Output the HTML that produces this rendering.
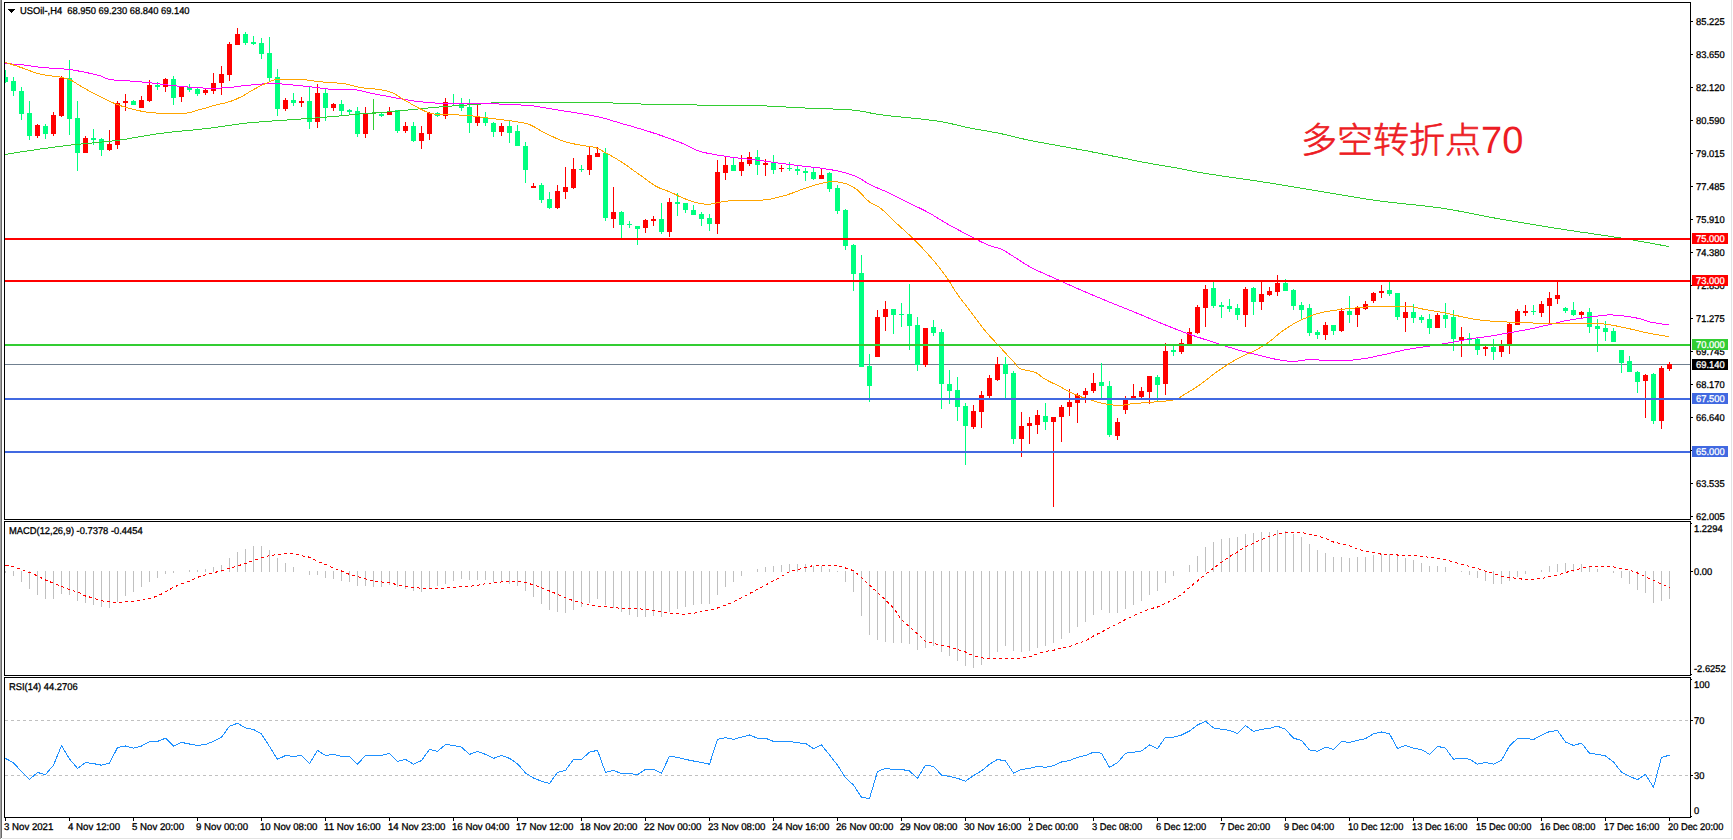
<!DOCTYPE html>
<html lang="zh"><head><meta charset="utf-8"><title>USOil H4</title>
<style>html,body{margin:0;padding:0;background:#fff;overflow:hidden}svg{display:block}text{font-family:'Liberation Sans', sans-serif;}</style>
</head><body>
<svg width="1733" height="840" viewBox="0 0 1733 840" text-rendering="geometricPrecision">
<rect x="0" y="0" width="1733" height="840" fill="#fff"/>
<g shape-rendering="crispEdges">
<rect x="0" y="0" width="1" height="839" fill="#a0a0a0"/>
<rect x="1" y="0" width="1" height="838" fill="#696969"/>
<rect x="2" y="838" width="1730" height="1" fill="#e3e3e3"/>
<rect x="1731" y="0" width="1" height="839" fill="#e3e3e3"/>
<rect x="5" y="364" width="1685" height="1" fill="#708090"/>
</g>
<g shape-rendering="crispEdges">
<rect x="5" y="70" width="1" height="13" fill="#00ff7f"/>
<rect x="5" y="77" width="3" height="5" fill="#00ff7f"/>
<rect x="13" y="77" width="1" height="19" fill="#00ff7f"/>
<rect x="11" y="81" width="5" height="10" fill="#00ff7f"/>
<rect x="21" y="87" width="1" height="33" fill="#00ff7f"/>
<rect x="19" y="91" width="5" height="23" fill="#00ff7f"/>
<rect x="29" y="101" width="1" height="39" fill="#00ff7f"/>
<rect x="27" y="113" width="5" height="23" fill="#00ff7f"/>
<rect x="37" y="124" width="1" height="14" fill="#ff0000"/>
<rect x="35" y="125" width="5" height="11" fill="#ff0000"/>
<rect x="45" y="124" width="1" height="15" fill="#00ff7f"/>
<rect x="43" y="126" width="5" height="8" fill="#00ff7f"/>
<rect x="53" y="112" width="1" height="24" fill="#ff0000"/>
<rect x="51" y="115" width="5" height="19" fill="#ff0000"/>
<rect x="61" y="76" width="1" height="41" fill="#ff0000"/>
<rect x="59" y="78" width="5" height="38" fill="#ff0000"/>
<rect x="69" y="60" width="1" height="75" fill="#00ff7f"/>
<rect x="67" y="78" width="5" height="41" fill="#00ff7f"/>
<rect x="77" y="101" width="1" height="70" fill="#00ff7f"/>
<rect x="75" y="118" width="5" height="35" fill="#00ff7f"/>
<rect x="85" y="136" width="1" height="17" fill="#ff0000"/>
<rect x="83" y="138" width="5" height="15" fill="#ff0000"/>
<rect x="93" y="129" width="1" height="16" fill="#00ff7f"/>
<rect x="91" y="138" width="5" height="2" fill="#00ff7f"/>
<rect x="101" y="138" width="1" height="18" fill="#00ff7f"/>
<rect x="99" y="139" width="5" height="11" fill="#00ff7f"/>
<rect x="109" y="130" width="1" height="21" fill="#ff0000"/>
<rect x="107" y="144" width="5" height="6" fill="#ff0000"/>
<rect x="117" y="101" width="1" height="48" fill="#ff0000"/>
<rect x="115" y="103" width="5" height="42" fill="#ff0000"/>
<rect x="125" y="94" width="1" height="17" fill="#ff0000"/>
<rect x="123" y="101" width="5" height="2" fill="#ff0000"/>
<rect x="133" y="100" width="1" height="5" fill="#00ff7f"/>
<rect x="131" y="101" width="5" height="4" fill="#00ff7f"/>
<rect x="141" y="96" width="1" height="12" fill="#ff0000"/>
<rect x="139" y="100" width="5" height="8" fill="#ff0000"/>
<rect x="149" y="80" width="1" height="22" fill="#ff0000"/>
<rect x="147" y="85" width="5" height="16" fill="#ff0000"/>
<rect x="157" y="82" width="1" height="8" fill="#00ff7f"/>
<rect x="155" y="85" width="5" height="2" fill="#00ff7f"/>
<rect x="165" y="78" width="1" height="14" fill="#ff0000"/>
<rect x="163" y="79" width="5" height="8" fill="#ff0000"/>
<rect x="173" y="76" width="1" height="29" fill="#00ff7f"/>
<rect x="171" y="79" width="5" height="19" fill="#00ff7f"/>
<rect x="181" y="86" width="1" height="16" fill="#ff0000"/>
<rect x="179" y="86" width="5" height="11" fill="#ff0000"/>
<rect x="189" y="84" width="1" height="8" fill="#00ff7f"/>
<rect x="187" y="87" width="5" height="3" fill="#00ff7f"/>
<rect x="197" y="88" width="1" height="8" fill="#00ff7f"/>
<rect x="195" y="89" width="5" height="5" fill="#00ff7f"/>
<rect x="205" y="88" width="1" height="7" fill="#ff0000"/>
<rect x="203" y="90" width="5" height="3" fill="#ff0000"/>
<rect x="213" y="73" width="1" height="21" fill="#ff0000"/>
<rect x="211" y="83" width="5" height="8" fill="#ff0000"/>
<rect x="221" y="66" width="1" height="29" fill="#ff0000"/>
<rect x="219" y="74" width="5" height="9" fill="#ff0000"/>
<rect x="229" y="42" width="1" height="39" fill="#ff0000"/>
<rect x="227" y="44" width="5" height="31" fill="#ff0000"/>
<rect x="237" y="28" width="1" height="17" fill="#ff0000"/>
<rect x="235" y="34" width="5" height="11" fill="#ff0000"/>
<rect x="245" y="32" width="1" height="13" fill="#00ff7f"/>
<rect x="243" y="34" width="5" height="9" fill="#00ff7f"/>
<rect x="253" y="36" width="1" height="9" fill="#00ff7f"/>
<rect x="251" y="42" width="5" height="2" fill="#00ff7f"/>
<rect x="261" y="38" width="1" height="21" fill="#00ff7f"/>
<rect x="259" y="43" width="5" height="11" fill="#00ff7f"/>
<rect x="269" y="37" width="1" height="44" fill="#00ff7f"/>
<rect x="267" y="53" width="5" height="25" fill="#00ff7f"/>
<rect x="277" y="69" width="1" height="47" fill="#00ff7f"/>
<rect x="275" y="77" width="5" height="32" fill="#00ff7f"/>
<rect x="285" y="98" width="1" height="13" fill="#ff0000"/>
<rect x="283" y="100" width="5" height="9" fill="#ff0000"/>
<rect x="293" y="93" width="1" height="13" fill="#00ff7f"/>
<rect x="291" y="100" width="5" height="3" fill="#00ff7f"/>
<rect x="301" y="97" width="1" height="10" fill="#ff0000"/>
<rect x="299" y="101" width="5" height="2" fill="#ff0000"/>
<rect x="309" y="87" width="1" height="42" fill="#00ff7f"/>
<rect x="307" y="101" width="5" height="21" fill="#00ff7f"/>
<rect x="317" y="84" width="1" height="44" fill="#ff0000"/>
<rect x="315" y="93" width="5" height="29" fill="#ff0000"/>
<rect x="325" y="89" width="1" height="32" fill="#00ff7f"/>
<rect x="323" y="93" width="5" height="15" fill="#00ff7f"/>
<rect x="333" y="103" width="1" height="8" fill="#ff0000"/>
<rect x="331" y="104" width="5" height="4" fill="#ff0000"/>
<rect x="341" y="100" width="1" height="16" fill="#00ff7f"/>
<rect x="339" y="104" width="5" height="7" fill="#00ff7f"/>
<rect x="349" y="109" width="1" height="6" fill="#00ff7f"/>
<rect x="347" y="110" width="5" height="2" fill="#00ff7f"/>
<rect x="357" y="107" width="1" height="30" fill="#00ff7f"/>
<rect x="355" y="111" width="5" height="23" fill="#00ff7f"/>
<rect x="365" y="107" width="1" height="31" fill="#ff0000"/>
<rect x="363" y="114" width="5" height="20" fill="#ff0000"/>
<rect x="373" y="99" width="1" height="31" fill="#32cd32"/>
<rect x="371" y="113" width="5" height="1" fill="#32cd32"/>
<rect x="381" y="113" width="1" height="4" fill="#00ff7f"/>
<rect x="379" y="114" width="5" height="2" fill="#00ff7f"/>
<rect x="389" y="107" width="1" height="8" fill="#ff0000"/>
<rect x="387" y="111" width="5" height="4" fill="#ff0000"/>
<rect x="397" y="110" width="1" height="23" fill="#00ff7f"/>
<rect x="395" y="110" width="5" height="21" fill="#00ff7f"/>
<rect x="405" y="122" width="1" height="11" fill="#ff0000"/>
<rect x="403" y="126" width="5" height="5" fill="#ff0000"/>
<rect x="413" y="122" width="1" height="20" fill="#00ff7f"/>
<rect x="411" y="126" width="5" height="15" fill="#00ff7f"/>
<rect x="421" y="126" width="1" height="23" fill="#ff0000"/>
<rect x="419" y="133" width="5" height="8" fill="#ff0000"/>
<rect x="429" y="112" width="1" height="28" fill="#ff0000"/>
<rect x="427" y="113" width="5" height="21" fill="#ff0000"/>
<rect x="437" y="112" width="1" height="5" fill="#00ff7f"/>
<rect x="435" y="113" width="5" height="3" fill="#00ff7f"/>
<rect x="445" y="98" width="1" height="21" fill="#ff0000"/>
<rect x="443" y="102" width="5" height="14" fill="#ff0000"/>
<rect x="453" y="94" width="1" height="11" fill="#00ff7f"/>
<rect x="451" y="103" width="5" height="1" fill="#00ff7f"/>
<rect x="461" y="98" width="1" height="13" fill="#00ff7f"/>
<rect x="459" y="103" width="5" height="5" fill="#00ff7f"/>
<rect x="469" y="99" width="1" height="34" fill="#00ff7f"/>
<rect x="467" y="107" width="5" height="16" fill="#00ff7f"/>
<rect x="477" y="105" width="1" height="21" fill="#ff0000"/>
<rect x="475" y="117" width="5" height="6" fill="#ff0000"/>
<rect x="485" y="112" width="1" height="14" fill="#00ff7f"/>
<rect x="483" y="117" width="5" height="6" fill="#00ff7f"/>
<rect x="493" y="122" width="1" height="15" fill="#00ff7f"/>
<rect x="491" y="123" width="5" height="9" fill="#00ff7f"/>
<rect x="501" y="123" width="1" height="13" fill="#ff0000"/>
<rect x="499" y="126" width="5" height="6" fill="#ff0000"/>
<rect x="509" y="121" width="1" height="22" fill="#00ff7f"/>
<rect x="507" y="126" width="5" height="7" fill="#00ff7f"/>
<rect x="517" y="125" width="1" height="21" fill="#00ff7f"/>
<rect x="515" y="131" width="5" height="15" fill="#00ff7f"/>
<rect x="525" y="142" width="1" height="41" fill="#00ff7f"/>
<rect x="523" y="146" width="5" height="24" fill="#00ff7f"/>
<rect x="533" y="183" width="1" height="5" fill="#ff0000"/>
<rect x="531" y="186" width="5" height="2" fill="#ff0000"/>
<rect x="541" y="183" width="1" height="20" fill="#00ff7f"/>
<rect x="539" y="185" width="5" height="15" fill="#00ff7f"/>
<rect x="549" y="192" width="1" height="17" fill="#00ff7f"/>
<rect x="547" y="199" width="5" height="9" fill="#00ff7f"/>
<rect x="557" y="185" width="1" height="24" fill="#ff0000"/>
<rect x="555" y="191" width="5" height="17" fill="#ff0000"/>
<rect x="565" y="167" width="1" height="32" fill="#ff0000"/>
<rect x="563" y="187" width="5" height="5" fill="#ff0000"/>
<rect x="573" y="158" width="1" height="31" fill="#ff0000"/>
<rect x="571" y="169" width="5" height="19" fill="#ff0000"/>
<rect x="581" y="165" width="1" height="7" fill="#00ff7f"/>
<rect x="579" y="169" width="5" height="1" fill="#00ff7f"/>
<rect x="589" y="147" width="1" height="28" fill="#ff0000"/>
<rect x="587" y="155" width="5" height="15" fill="#ff0000"/>
<rect x="597" y="147" width="1" height="10" fill="#ff0000"/>
<rect x="595" y="153" width="5" height="4" fill="#ff0000"/>
<rect x="605" y="148" width="1" height="73" fill="#00ff7f"/>
<rect x="603" y="153" width="5" height="65" fill="#00ff7f"/>
<rect x="613" y="187" width="1" height="41" fill="#ff0000"/>
<rect x="611" y="212" width="5" height="7" fill="#ff0000"/>
<rect x="621" y="211" width="1" height="27" fill="#00ff7f"/>
<rect x="619" y="212" width="5" height="13" fill="#00ff7f"/>
<rect x="629" y="221" width="1" height="7" fill="#00ff7f"/>
<rect x="627" y="224" width="5" height="1" fill="#00ff7f"/>
<rect x="637" y="226" width="1" height="19" fill="#00ff7f"/>
<rect x="635" y="226" width="5" height="3" fill="#00ff7f"/>
<rect x="645" y="219" width="1" height="14" fill="#ff0000"/>
<rect x="643" y="220" width="5" height="8" fill="#ff0000"/>
<rect x="653" y="216" width="1" height="10" fill="#ff0000"/>
<rect x="651" y="219" width="5" height="2" fill="#ff0000"/>
<rect x="661" y="203" width="1" height="31" fill="#00ff7f"/>
<rect x="659" y="219" width="5" height="13" fill="#00ff7f"/>
<rect x="669" y="198" width="1" height="39" fill="#ff0000"/>
<rect x="667" y="202" width="5" height="30" fill="#ff0000"/>
<rect x="677" y="193" width="1" height="23" fill="#00ff7f"/>
<rect x="675" y="202" width="5" height="2" fill="#00ff7f"/>
<rect x="685" y="203" width="1" height="10" fill="#00ff7f"/>
<rect x="683" y="203" width="5" height="7" fill="#00ff7f"/>
<rect x="693" y="205" width="1" height="10" fill="#00ff7f"/>
<rect x="691" y="210" width="5" height="5" fill="#00ff7f"/>
<rect x="701" y="212" width="1" height="14" fill="#00ff7f"/>
<rect x="699" y="214" width="5" height="5" fill="#00ff7f"/>
<rect x="709" y="214" width="1" height="17" fill="#00ff7f"/>
<rect x="707" y="218" width="5" height="6" fill="#00ff7f"/>
<rect x="717" y="160" width="1" height="74" fill="#ff0000"/>
<rect x="715" y="172" width="5" height="52" fill="#ff0000"/>
<rect x="725" y="157" width="1" height="23" fill="#ff0000"/>
<rect x="723" y="165" width="5" height="8" fill="#ff0000"/>
<rect x="733" y="158" width="1" height="13" fill="#00ff7f"/>
<rect x="731" y="165" width="5" height="6" fill="#00ff7f"/>
<rect x="741" y="155" width="1" height="21" fill="#ff0000"/>
<rect x="739" y="162" width="5" height="9" fill="#ff0000"/>
<rect x="749" y="152" width="1" height="14" fill="#ff0000"/>
<rect x="747" y="157" width="5" height="7" fill="#ff0000"/>
<rect x="757" y="150" width="1" height="25" fill="#00ff7f"/>
<rect x="755" y="157" width="5" height="8" fill="#00ff7f"/>
<rect x="765" y="159" width="1" height="17" fill="#ff0000"/>
<rect x="763" y="163" width="5" height="2" fill="#ff0000"/>
<rect x="773" y="155" width="1" height="19" fill="#00ff7f"/>
<rect x="771" y="163" width="5" height="7" fill="#00ff7f"/>
<rect x="781" y="165" width="1" height="7" fill="#ff0000"/>
<rect x="779" y="168" width="5" height="1" fill="#ff0000"/>
<rect x="789" y="162" width="1" height="9" fill="#00ff7f"/>
<rect x="787" y="168" width="5" height="1" fill="#00ff7f"/>
<rect x="797" y="166" width="1" height="9" fill="#00ff7f"/>
<rect x="795" y="169" width="5" height="2" fill="#00ff7f"/>
<rect x="805" y="168" width="1" height="13" fill="#00ff7f"/>
<rect x="803" y="171" width="5" height="2" fill="#00ff7f"/>
<rect x="813" y="168" width="1" height="12" fill="#00ff7f"/>
<rect x="811" y="172" width="5" height="7" fill="#00ff7f"/>
<rect x="821" y="169" width="1" height="10" fill="#ff0000"/>
<rect x="819" y="175" width="5" height="4" fill="#ff0000"/>
<rect x="829" y="172" width="1" height="20" fill="#00ff7f"/>
<rect x="827" y="173" width="5" height="16" fill="#00ff7f"/>
<rect x="837" y="185" width="1" height="29" fill="#00ff7f"/>
<rect x="835" y="188" width="5" height="23" fill="#00ff7f"/>
<rect x="845" y="209" width="1" height="41" fill="#00ff7f"/>
<rect x="843" y="210" width="5" height="36" fill="#00ff7f"/>
<rect x="853" y="244" width="1" height="47" fill="#00ff7f"/>
<rect x="851" y="245" width="5" height="29" fill="#00ff7f"/>
<rect x="861" y="255" width="1" height="112" fill="#00ff7f"/>
<rect x="859" y="273" width="5" height="94" fill="#00ff7f"/>
<rect x="869" y="354" width="1" height="48" fill="#00ff7f"/>
<rect x="867" y="366" width="5" height="20" fill="#00ff7f"/>
<rect x="877" y="310" width="1" height="47" fill="#ff0000"/>
<rect x="875" y="317" width="5" height="40" fill="#ff0000"/>
<rect x="885" y="301" width="1" height="30" fill="#ff0000"/>
<rect x="883" y="309" width="5" height="8" fill="#ff0000"/>
<rect x="893" y="309" width="1" height="25" fill="#00ff7f"/>
<rect x="891" y="309" width="5" height="6" fill="#00ff7f"/>
<rect x="901" y="303" width="1" height="24" fill="#00ff7f"/>
<rect x="899" y="314" width="5" height="1" fill="#00ff7f"/>
<rect x="909" y="284" width="1" height="66" fill="#00ff7f"/>
<rect x="907" y="314" width="5" height="12" fill="#00ff7f"/>
<rect x="917" y="317" width="1" height="54" fill="#00ff7f"/>
<rect x="915" y="325" width="5" height="40" fill="#00ff7f"/>
<rect x="925" y="328" width="1" height="39" fill="#ff0000"/>
<rect x="923" y="328" width="5" height="37" fill="#ff0000"/>
<rect x="933" y="320" width="1" height="16" fill="#00ff7f"/>
<rect x="931" y="327" width="5" height="6" fill="#00ff7f"/>
<rect x="941" y="329" width="1" height="80" fill="#00ff7f"/>
<rect x="939" y="332" width="5" height="52" fill="#00ff7f"/>
<rect x="949" y="370" width="1" height="34" fill="#00ff7f"/>
<rect x="947" y="384" width="5" height="7" fill="#00ff7f"/>
<rect x="957" y="377" width="1" height="44" fill="#00ff7f"/>
<rect x="955" y="390" width="5" height="17" fill="#00ff7f"/>
<rect x="965" y="403" width="1" height="62" fill="#00ff7f"/>
<rect x="963" y="406" width="5" height="20" fill="#00ff7f"/>
<rect x="973" y="405" width="1" height="24" fill="#ff0000"/>
<rect x="971" y="411" width="5" height="16" fill="#ff0000"/>
<rect x="981" y="391" width="1" height="37" fill="#ff0000"/>
<rect x="979" y="395" width="5" height="17" fill="#ff0000"/>
<rect x="989" y="375" width="1" height="23" fill="#ff0000"/>
<rect x="987" y="378" width="5" height="18" fill="#ff0000"/>
<rect x="997" y="357" width="1" height="24" fill="#ff0000"/>
<rect x="995" y="364" width="5" height="16" fill="#ff0000"/>
<rect x="1005" y="357" width="1" height="41" fill="#00ff7f"/>
<rect x="1003" y="364" width="5" height="10" fill="#00ff7f"/>
<rect x="1013" y="371" width="1" height="73" fill="#00ff7f"/>
<rect x="1011" y="373" width="5" height="66" fill="#00ff7f"/>
<rect x="1021" y="412" width="1" height="45" fill="#ff0000"/>
<rect x="1019" y="426" width="5" height="13" fill="#ff0000"/>
<rect x="1029" y="417" width="1" height="27" fill="#ff0000"/>
<rect x="1027" y="423" width="5" height="3" fill="#ff0000"/>
<rect x="1037" y="410" width="1" height="24" fill="#ff0000"/>
<rect x="1035" y="415" width="5" height="10" fill="#ff0000"/>
<rect x="1045" y="403" width="1" height="27" fill="#00ff7f"/>
<rect x="1043" y="416" width="5" height="6" fill="#00ff7f"/>
<rect x="1053" y="417" width="1" height="90" fill="#ff0000"/>
<rect x="1051" y="417" width="5" height="5" fill="#ff0000"/>
<rect x="1061" y="405" width="1" height="37" fill="#ff0000"/>
<rect x="1059" y="407" width="5" height="10" fill="#ff0000"/>
<rect x="1069" y="389" width="1" height="27" fill="#ff0000"/>
<rect x="1067" y="402" width="5" height="5" fill="#ff0000"/>
<rect x="1077" y="393" width="1" height="30" fill="#ff0000"/>
<rect x="1075" y="395" width="5" height="8" fill="#ff0000"/>
<rect x="1085" y="388" width="1" height="15" fill="#ff0000"/>
<rect x="1083" y="391" width="5" height="4" fill="#ff0000"/>
<rect x="1093" y="373" width="1" height="20" fill="#ff0000"/>
<rect x="1091" y="383" width="5" height="8" fill="#ff0000"/>
<rect x="1101" y="363" width="1" height="36" fill="#00ff7f"/>
<rect x="1099" y="382" width="5" height="4" fill="#00ff7f"/>
<rect x="1109" y="381" width="1" height="56" fill="#00ff7f"/>
<rect x="1107" y="386" width="5" height="49" fill="#00ff7f"/>
<rect x="1117" y="418" width="1" height="22" fill="#ff0000"/>
<rect x="1115" y="422" width="5" height="14" fill="#ff0000"/>
<rect x="1125" y="396" width="1" height="18" fill="#ff0000"/>
<rect x="1123" y="400" width="5" height="10" fill="#ff0000"/>
<rect x="1133" y="384" width="1" height="15" fill="#ff0000"/>
<rect x="1131" y="396" width="5" height="3" fill="#ff0000"/>
<rect x="1141" y="387" width="1" height="11" fill="#ff0000"/>
<rect x="1139" y="391" width="5" height="6" fill="#ff0000"/>
<rect x="1149" y="376" width="1" height="28" fill="#ff0000"/>
<rect x="1147" y="376" width="5" height="16" fill="#ff0000"/>
<rect x="1157" y="375" width="1" height="27" fill="#00ff7f"/>
<rect x="1155" y="377" width="5" height="8" fill="#00ff7f"/>
<rect x="1165" y="343" width="1" height="52" fill="#ff0000"/>
<rect x="1163" y="351" width="5" height="33" fill="#ff0000"/>
<rect x="1173" y="346" width="1" height="10" fill="#00ff7f"/>
<rect x="1171" y="350" width="5" height="2" fill="#00ff7f"/>
<rect x="1181" y="339" width="1" height="15" fill="#ff0000"/>
<rect x="1179" y="343" width="5" height="9" fill="#ff0000"/>
<rect x="1189" y="328" width="1" height="16" fill="#ff0000"/>
<rect x="1187" y="332" width="5" height="12" fill="#ff0000"/>
<rect x="1197" y="305" width="1" height="29" fill="#ff0000"/>
<rect x="1195" y="307" width="5" height="26" fill="#ff0000"/>
<rect x="1205" y="285" width="1" height="42" fill="#ff0000"/>
<rect x="1203" y="289" width="5" height="19" fill="#ff0000"/>
<rect x="1213" y="282" width="1" height="26" fill="#00ff7f"/>
<rect x="1211" y="288" width="5" height="18" fill="#00ff7f"/>
<rect x="1221" y="302" width="1" height="16" fill="#00ff7f"/>
<rect x="1219" y="305" width="5" height="2" fill="#00ff7f"/>
<rect x="1229" y="299" width="1" height="13" fill="#00ff7f"/>
<rect x="1227" y="306" width="5" height="3" fill="#00ff7f"/>
<rect x="1237" y="304" width="1" height="16" fill="#00ff7f"/>
<rect x="1235" y="308" width="5" height="7" fill="#00ff7f"/>
<rect x="1245" y="287" width="1" height="40" fill="#ff0000"/>
<rect x="1243" y="289" width="5" height="26" fill="#ff0000"/>
<rect x="1253" y="287" width="1" height="28" fill="#00ff7f"/>
<rect x="1251" y="288" width="5" height="14" fill="#00ff7f"/>
<rect x="1261" y="282" width="1" height="28" fill="#ff0000"/>
<rect x="1259" y="294" width="5" height="8" fill="#ff0000"/>
<rect x="1269" y="287" width="1" height="9" fill="#ff0000"/>
<rect x="1267" y="291" width="5" height="4" fill="#ff0000"/>
<rect x="1277" y="275" width="1" height="21" fill="#ff0000"/>
<rect x="1275" y="283" width="5" height="9" fill="#ff0000"/>
<rect x="1285" y="279" width="1" height="12" fill="#00ff7f"/>
<rect x="1283" y="283" width="5" height="8" fill="#00ff7f"/>
<rect x="1293" y="289" width="1" height="21" fill="#00ff7f"/>
<rect x="1291" y="290" width="5" height="16" fill="#00ff7f"/>
<rect x="1301" y="302" width="1" height="17" fill="#00ff7f"/>
<rect x="1299" y="305" width="5" height="5" fill="#00ff7f"/>
<rect x="1309" y="304" width="1" height="32" fill="#00ff7f"/>
<rect x="1307" y="308" width="5" height="25" fill="#00ff7f"/>
<rect x="1317" y="330" width="1" height="9" fill="#00ff7f"/>
<rect x="1315" y="332" width="5" height="3" fill="#00ff7f"/>
<rect x="1325" y="322" width="1" height="18" fill="#ff0000"/>
<rect x="1323" y="325" width="5" height="10" fill="#ff0000"/>
<rect x="1333" y="325" width="1" height="10" fill="#00ff7f"/>
<rect x="1331" y="325" width="5" height="6" fill="#00ff7f"/>
<rect x="1341" y="308" width="1" height="24" fill="#ff0000"/>
<rect x="1339" y="311" width="5" height="20" fill="#ff0000"/>
<rect x="1349" y="296" width="1" height="27" fill="#00ff7f"/>
<rect x="1347" y="311" width="5" height="4" fill="#00ff7f"/>
<rect x="1357" y="306" width="1" height="21" fill="#ff0000"/>
<rect x="1355" y="308" width="5" height="7" fill="#ff0000"/>
<rect x="1365" y="301" width="1" height="9" fill="#ff0000"/>
<rect x="1363" y="304" width="5" height="5" fill="#ff0000"/>
<rect x="1373" y="292" width="1" height="11" fill="#ff0000"/>
<rect x="1371" y="293" width="5" height="8" fill="#ff0000"/>
<rect x="1381" y="285" width="1" height="13" fill="#ff0000"/>
<rect x="1379" y="291" width="5" height="2" fill="#ff0000"/>
<rect x="1389" y="282" width="1" height="14" fill="#00ff7f"/>
<rect x="1387" y="290" width="5" height="4" fill="#00ff7f"/>
<rect x="1397" y="293" width="1" height="27" fill="#00ff7f"/>
<rect x="1395" y="293" width="5" height="24" fill="#00ff7f"/>
<rect x="1405" y="302" width="1" height="30" fill="#ff0000"/>
<rect x="1403" y="312" width="5" height="6" fill="#ff0000"/>
<rect x="1413" y="304" width="1" height="19" fill="#00ff7f"/>
<rect x="1411" y="312" width="5" height="6" fill="#00ff7f"/>
<rect x="1421" y="315" width="1" height="8" fill="#00ff7f"/>
<rect x="1419" y="317" width="5" height="3" fill="#00ff7f"/>
<rect x="1429" y="314" width="1" height="20" fill="#00ff7f"/>
<rect x="1427" y="319" width="5" height="9" fill="#00ff7f"/>
<rect x="1437" y="313" width="1" height="15" fill="#ff0000"/>
<rect x="1435" y="315" width="5" height="13" fill="#ff0000"/>
<rect x="1445" y="303" width="1" height="25" fill="#00ff7f"/>
<rect x="1443" y="315" width="5" height="4" fill="#00ff7f"/>
<rect x="1453" y="310" width="1" height="41" fill="#00ff7f"/>
<rect x="1451" y="317" width="5" height="22" fill="#00ff7f"/>
<rect x="1461" y="327" width="1" height="30" fill="#ff0000"/>
<rect x="1459" y="337" width="5" height="3" fill="#ff0000"/>
<rect x="1469" y="333" width="1" height="11" fill="#00ff7f"/>
<rect x="1467" y="338" width="5" height="2" fill="#00ff7f"/>
<rect x="1477" y="337" width="1" height="18" fill="#00ff7f"/>
<rect x="1475" y="339" width="5" height="11" fill="#00ff7f"/>
<rect x="1485" y="345" width="1" height="11" fill="#ff0000"/>
<rect x="1483" y="347" width="5" height="2" fill="#ff0000"/>
<rect x="1493" y="339" width="1" height="21" fill="#00ff7f"/>
<rect x="1491" y="347" width="5" height="5" fill="#00ff7f"/>
<rect x="1501" y="340" width="1" height="17" fill="#ff0000"/>
<rect x="1499" y="346" width="5" height="6" fill="#ff0000"/>
<rect x="1509" y="323" width="1" height="31" fill="#ff0000"/>
<rect x="1507" y="324" width="5" height="20" fill="#ff0000"/>
<rect x="1517" y="309" width="1" height="16" fill="#ff0000"/>
<rect x="1515" y="311" width="5" height="14" fill="#ff0000"/>
<rect x="1525" y="305" width="1" height="11" fill="#ff0000"/>
<rect x="1523" y="311" width="5" height="2" fill="#ff0000"/>
<rect x="1533" y="305" width="1" height="10" fill="#00ff7f"/>
<rect x="1531" y="311" width="5" height="1" fill="#00ff7f"/>
<rect x="1541" y="301" width="1" height="16" fill="#ff0000"/>
<rect x="1539" y="304" width="5" height="9" fill="#ff0000"/>
<rect x="1549" y="292" width="1" height="33" fill="#ff0000"/>
<rect x="1547" y="298" width="5" height="8" fill="#ff0000"/>
<rect x="1557" y="282" width="1" height="22" fill="#ff0000"/>
<rect x="1555" y="295" width="5" height="4" fill="#ff0000"/>
<rect x="1565" y="307" width="1" height="6" fill="#00ff7f"/>
<rect x="1563" y="308" width="5" height="3" fill="#00ff7f"/>
<rect x="1573" y="302" width="1" height="14" fill="#00ff7f"/>
<rect x="1571" y="310" width="5" height="5" fill="#00ff7f"/>
<rect x="1581" y="311" width="1" height="7" fill="#ff0000"/>
<rect x="1579" y="312" width="5" height="3" fill="#ff0000"/>
<rect x="1589" y="308" width="1" height="25" fill="#00ff7f"/>
<rect x="1587" y="312" width="5" height="15" fill="#00ff7f"/>
<rect x="1597" y="319" width="1" height="33" fill="#00ff7f"/>
<rect x="1595" y="326" width="5" height="3" fill="#00ff7f"/>
<rect x="1605" y="321" width="1" height="20" fill="#00ff7f"/>
<rect x="1603" y="328" width="5" height="4" fill="#00ff7f"/>
<rect x="1613" y="328" width="1" height="14" fill="#00ff7f"/>
<rect x="1611" y="331" width="5" height="11" fill="#00ff7f"/>
<rect x="1621" y="350" width="1" height="23" fill="#00ff7f"/>
<rect x="1619" y="350" width="5" height="13" fill="#00ff7f"/>
<rect x="1629" y="356" width="1" height="16" fill="#00ff7f"/>
<rect x="1627" y="361" width="5" height="11" fill="#00ff7f"/>
<rect x="1637" y="371" width="1" height="22" fill="#00ff7f"/>
<rect x="1635" y="372" width="5" height="10" fill="#00ff7f"/>
<rect x="1645" y="374" width="1" height="44" fill="#ff0000"/>
<rect x="1643" y="375" width="5" height="6" fill="#ff0000"/>
<rect x="1653" y="373" width="1" height="51" fill="#00ff7f"/>
<rect x="1651" y="374" width="5" height="47" fill="#00ff7f"/>
<rect x="1661" y="366" width="1" height="63" fill="#ff0000"/>
<rect x="1659" y="368" width="5" height="53" fill="#ff0000"/>
<rect x="1669" y="362" width="1" height="9" fill="#ff0000"/>
<rect x="1667" y="364" width="5" height="5" fill="#ff0000"/>
<polyline points="5.0,154.6 7.0,154.3 9.0,153.9 11.0,153.6 13.0,153.2 15.0,152.9 17.0,152.6 19.0,152.3 21.0,151.9 23.0,151.6 25.0,151.3 27.0,151.0 29.0,150.7 31.0,150.4 33.0,150.1 35.0,149.8 37.0,149.5 39.0,149.2 41.0,148.9 43.0,148.6 45.0,148.3 47.0,148.1 49.0,147.8 51.0,147.5 53.0,147.2 55.0,147.0 57.0,146.7 59.0,146.5 61.0,146.2 63.0,146.0 65.0,145.7 67.0,145.5 69.0,145.2 71.0,145.0 73.0,144.8 75.0,144.6 77.0,144.4 79.0,144.2 81.0,144.0 83.0,143.8 85.0,143.6 87.0,143.4 89.0,143.2 91.0,143.1 93.0,142.9 95.0,142.7 97.0,142.5 99.0,142.3 101.0,142.1 103.0,141.9 105.0,141.8 107.0,141.5 109.0,141.3 111.0,141.1 113.0,140.9 115.0,140.7 117.0,140.4 119.0,140.2 121.0,139.9 123.0,139.6 125.0,139.3 127.0,139.0 129.0,138.6 131.0,138.3 133.0,137.9 135.0,137.6 137.0,137.2 139.0,136.9 141.0,136.5 143.0,136.2 145.0,135.8 147.0,135.5 149.0,135.2 151.0,134.8 153.0,134.5 155.0,134.2 157.0,133.9 159.0,133.6 161.0,133.3 163.0,133.1 165.0,132.8 167.0,132.6 169.0,132.4 171.0,132.1 173.0,131.9 175.0,131.7 177.0,131.5 179.0,131.3 181.0,131.1 183.0,130.9 185.0,130.7 187.0,130.5 189.0,130.4 191.0,130.2 193.0,130.0 195.0,129.8 197.0,129.6 199.0,129.4 201.0,129.1 203.0,128.9 205.0,128.7 207.0,128.5 209.0,128.2 211.0,128.0 213.0,127.7 215.0,127.5 217.0,127.2 219.0,126.9 221.0,126.6 223.0,126.3 225.0,126.0 227.0,125.7 229.0,125.4 231.0,125.1 233.0,124.8 235.0,124.5 237.0,124.3 239.0,124.0 241.0,123.7 243.0,123.5 245.0,123.3 247.0,123.0 249.0,122.8 251.0,122.6 253.0,122.5 255.0,122.3 257.0,122.1 259.0,122.0 261.0,121.8 263.0,121.6 265.0,121.5 267.0,121.4 269.0,121.2 271.0,121.1 273.0,120.9 275.0,120.8 277.0,120.7 279.0,120.5 281.0,120.4 283.0,120.3 285.0,120.1 287.0,120.0 289.0,119.8 291.0,119.7 293.0,119.5 295.0,119.4 297.0,119.2 299.0,119.1 301.0,119.0 303.0,118.8 305.0,118.7 307.0,118.5 309.0,118.4 311.0,118.2 313.0,118.1 315.0,118.0 317.0,117.8 319.0,117.7 321.0,117.5 323.0,117.4 325.0,117.2 327.0,117.0 329.0,116.9 331.0,116.7 333.0,116.5 335.0,116.4 337.0,116.2 339.0,116.0 341.0,115.8 343.0,115.6 345.0,115.4 347.0,115.2 349.0,115.0 351.0,114.7 353.0,114.5 355.0,114.4 357.0,114.2 359.0,114.0 361.0,113.8 363.0,113.7 365.0,113.5 367.0,113.4 369.0,113.2 371.0,113.1 373.0,112.9 375.0,112.8 377.0,112.7 379.0,112.5 381.0,112.4 383.0,112.3 385.0,112.1 387.0,112.0 389.0,111.8 391.0,111.6 393.0,111.5 395.0,111.3 397.0,111.1 399.0,110.9 401.0,110.7 403.0,110.5 405.0,110.3 407.0,110.1 409.0,109.9 411.0,109.7 413.0,109.5 415.0,109.3 417.0,109.1 419.0,108.9 421.0,108.7 423.0,108.5 425.0,108.3 427.0,108.1 429.0,107.9 431.0,107.7 433.0,107.5 435.0,107.3 437.0,107.1 439.0,107.0 441.0,106.8 443.0,106.6 445.0,106.5 447.0,106.3 449.0,106.2 451.0,106.1 453.0,105.9 455.0,105.8 457.0,105.7 459.0,105.5 461.0,105.4 463.0,105.3 465.0,105.1 467.0,105.0 469.0,104.9 471.0,104.7 473.0,104.6 475.0,104.5 477.0,104.3 479.0,104.1 481.0,104.0 483.0,103.8 485.0,103.6 487.0,103.4 489.0,103.2 491.0,103.0 493.0,102.8 495.0,102.7 497.0,102.5 499.0,102.4 501.0,102.3 503.0,102.2 505.0,102.2 507.0,102.2 509.0,102.2 511.0,102.2 513.0,102.2 515.0,102.2 517.0,102.2 519.0,102.2 521.0,102.2 523.0,102.2 525.0,102.2 527.0,102.2 529.0,102.2 531.0,102.2 533.0,102.2 535.0,102.2 537.0,102.2 539.0,102.2 541.0,102.2 543.0,102.2 545.0,102.2 547.0,102.2 549.0,102.2 551.0,102.2 553.0,102.2 555.0,102.2 557.0,102.2 559.0,102.2 561.0,102.2 563.0,102.2 565.0,102.2 567.0,102.2 569.0,102.2 571.0,102.3 573.0,102.3 575.0,102.3 577.0,102.3 579.0,102.4 581.0,102.4 583.0,102.4 585.0,102.4 587.0,102.5 589.0,102.5 591.0,102.5 593.0,102.6 595.0,102.6 597.0,102.7 599.0,102.7 601.0,102.7 603.0,102.8 605.0,102.8 607.0,102.8 609.0,102.9 611.0,102.9 613.0,103.0 615.0,103.0 617.0,103.1 619.0,103.2 621.0,103.2 623.0,103.3 625.0,103.4 627.0,103.5 629.0,103.5 631.0,103.6 633.0,103.7 635.0,103.8 637.0,103.9 639.0,103.9 641.0,104.0 643.0,104.1 645.0,104.1 647.0,104.2 649.0,104.3 651.0,104.3 653.0,104.3 655.0,104.4 657.0,104.4 659.0,104.5 661.0,104.5 663.0,104.5 665.0,104.5 667.0,104.6 669.0,104.6 671.0,104.6 673.0,104.7 675.0,104.7 677.0,104.7 679.0,104.7 681.0,104.8 683.0,104.8 685.0,104.8 687.0,104.8 689.0,104.9 691.0,104.9 693.0,104.9 695.0,104.9 697.0,105.0 699.0,105.0 701.0,105.0 703.0,105.0 705.0,105.1 707.0,105.1 709.0,105.1 711.0,105.1 713.0,105.1 715.0,105.2 717.0,105.2 719.0,105.2 721.0,105.2 723.0,105.2 725.0,105.2 727.0,105.3 729.0,105.3 731.0,105.3 733.0,105.3 735.0,105.3 737.0,105.4 739.0,105.4 741.0,105.4 743.0,105.4 745.0,105.5 747.0,105.5 749.0,105.5 751.0,105.5 753.0,105.6 755.0,105.6 757.0,105.7 759.0,105.7 761.0,105.8 763.0,105.9 765.0,105.9 767.0,106.0 769.0,106.1 771.0,106.2 773.0,106.3 775.0,106.4 777.0,106.5 779.0,106.6 781.0,106.7 783.0,106.8 785.0,106.9 787.0,107.1 789.0,107.2 791.0,107.3 793.0,107.4 795.0,107.5 797.0,107.6 799.0,107.7 801.0,107.8 803.0,107.9 805.0,108.0 807.0,108.1 809.0,108.2 811.0,108.2 813.0,108.3 815.0,108.4 817.0,108.4 819.0,108.5 821.0,108.6 823.0,108.6 825.0,108.7 827.0,108.8 829.0,108.8 831.0,108.9 833.0,109.0 835.0,109.0 837.0,109.1 839.0,109.2 841.0,109.3 843.0,109.4 845.0,109.5 847.0,109.6 849.0,109.7 851.0,109.9 853.0,110.1 855.0,110.3 857.0,110.6 859.0,110.9 861.0,111.2 863.0,111.6 865.0,111.9 867.0,112.3 869.0,112.7 871.0,113.1 873.0,113.5 875.0,113.8 877.0,114.2 879.0,114.5 881.0,114.7 883.0,115.0 885.0,115.2 887.0,115.5 889.0,115.7 891.0,116.0 893.0,116.2 895.0,116.4 897.0,116.6 899.0,116.8 901.0,117.0 903.0,117.2 905.0,117.4 907.0,117.6 909.0,117.8 911.0,118.0 913.0,118.2 915.0,118.4 917.0,118.6 919.0,118.8 921.0,119.0 923.0,119.3 925.0,119.5 927.0,119.7 929.0,120.0 931.0,120.2 933.0,120.5 935.0,120.8 937.0,121.0 939.0,121.3 941.0,121.7 943.0,122.0 945.0,122.4 947.0,122.8 949.0,123.2 951.0,123.7 953.0,124.1 955.0,124.6 957.0,125.1 959.0,125.5 961.0,126.0 963.0,126.5 965.0,126.9 967.0,127.4 969.0,127.8 971.0,128.2 973.0,128.6 975.0,129.0 977.0,129.3 979.0,129.7 981.0,130.0 983.0,130.4 985.0,130.7 987.0,131.1 989.0,131.4 991.0,131.8 993.0,132.2 995.0,132.5 997.0,132.9 999.0,133.3 1001.0,133.7 1003.0,134.1 1005.0,134.6 1007.0,135.0 1009.0,135.5 1011.0,136.0 1013.0,136.5 1015.0,136.9 1017.0,137.4 1019.0,137.9 1021.0,138.4 1023.0,138.9 1025.0,139.3 1027.0,139.8 1029.0,140.2 1031.0,140.6 1033.0,141.0 1035.0,141.4 1037.0,141.8 1039.0,142.2 1041.0,142.5 1043.0,142.9 1045.0,143.3 1047.0,143.6 1049.0,144.0 1051.0,144.4 1053.0,144.7 1055.0,145.1 1057.0,145.4 1059.0,145.8 1061.0,146.2 1063.0,146.6 1065.0,146.9 1067.0,147.3 1069.0,147.6 1071.0,148.0 1073.0,148.4 1075.0,148.7 1077.0,149.1 1079.0,149.5 1081.0,149.8 1083.0,150.2 1085.0,150.6 1087.0,150.9 1089.0,151.3 1091.0,151.7 1093.0,152.1 1095.0,152.5 1097.0,152.9 1099.0,153.3 1101.0,153.7 1103.0,154.1 1105.0,154.5 1107.0,154.9 1109.0,155.3 1111.0,155.7 1113.0,156.1 1115.0,156.5 1117.0,156.9 1119.0,157.3 1121.0,157.7 1123.0,158.1 1125.0,158.5 1127.0,158.9 1129.0,159.3 1131.0,159.7 1133.0,160.2 1135.0,160.6 1137.0,161.0 1139.0,161.4 1141.0,161.8 1143.0,162.2 1145.0,162.6 1147.0,162.9 1149.0,163.3 1151.0,163.7 1153.0,164.0 1155.0,164.4 1157.0,164.7 1159.0,165.1 1161.0,165.4 1163.0,165.7 1165.0,166.1 1167.0,166.4 1169.0,166.7 1171.0,167.0 1173.0,167.4 1175.0,167.7 1177.0,168.1 1179.0,168.4 1181.0,168.8 1183.0,169.2 1185.0,169.6 1187.0,170.0 1189.0,170.4 1191.0,170.8 1193.0,171.2 1195.0,171.6 1197.0,172.0 1199.0,172.3 1201.0,172.7 1203.0,173.0 1205.0,173.3 1207.0,173.7 1209.0,174.0 1211.0,174.3 1213.0,174.6 1215.0,174.9 1217.0,175.2 1219.0,175.5 1221.0,175.8 1223.0,176.1 1225.0,176.4 1227.0,176.7 1229.0,177.0 1231.0,177.3 1233.0,177.5 1235.0,177.8 1237.0,178.1 1239.0,178.4 1241.0,178.7 1243.0,179.0 1245.0,179.3 1247.0,179.5 1249.0,179.8 1251.0,180.1 1253.0,180.4 1255.0,180.7 1257.0,181.0 1259.0,181.3 1261.0,181.7 1263.0,182.0 1265.0,182.3 1267.0,182.6 1269.0,182.9 1271.0,183.3 1273.0,183.6 1275.0,183.9 1277.0,184.2 1279.0,184.6 1281.0,184.9 1283.0,185.2 1285.0,185.6 1287.0,185.9 1289.0,186.2 1291.0,186.6 1293.0,186.9 1295.0,187.2 1297.0,187.6 1299.0,187.9 1301.0,188.3 1303.0,188.6 1305.0,188.9 1307.0,189.3 1309.0,189.6 1311.0,189.9 1313.0,190.3 1315.0,190.6 1317.0,190.9 1319.0,191.2 1321.0,191.6 1323.0,191.9 1325.0,192.2 1327.0,192.6 1329.0,192.9 1331.0,193.2 1333.0,193.6 1335.0,193.9 1337.0,194.2 1339.0,194.6 1341.0,194.9 1343.0,195.2 1345.0,195.6 1347.0,195.9 1349.0,196.2 1351.0,196.6 1353.0,196.9 1355.0,197.2 1357.0,197.6 1359.0,197.9 1361.0,198.2 1363.0,198.5 1365.0,198.8 1367.0,199.1 1369.0,199.4 1371.0,199.7 1373.0,200.0 1375.0,200.3 1377.0,200.6 1379.0,200.9 1381.0,201.1 1383.0,201.4 1385.0,201.6 1387.0,201.9 1389.0,202.1 1391.0,202.4 1393.0,202.6 1395.0,202.8 1397.0,203.0 1399.0,203.2 1401.0,203.5 1403.0,203.7 1405.0,203.9 1407.0,204.1 1409.0,204.3 1411.0,204.5 1413.0,204.7 1415.0,204.9 1417.0,205.1 1419.0,205.3 1421.0,205.6 1423.0,205.8 1425.0,206.0 1427.0,206.2 1429.0,206.5 1431.0,206.7 1433.0,207.0 1435.0,207.2 1437.0,207.5 1439.0,207.8 1441.0,208.0 1443.0,208.3 1445.0,208.6 1447.0,209.0 1449.0,209.3 1451.0,209.6 1453.0,210.0 1455.0,210.3 1457.0,210.7 1459.0,211.1 1461.0,211.5 1463.0,211.8 1465.0,212.2 1467.0,212.6 1469.0,213.0 1471.0,213.4 1473.0,213.8 1475.0,214.2 1477.0,214.6 1479.0,215.0 1481.0,215.4 1483.0,215.8 1485.0,216.2 1487.0,216.6 1489.0,217.0 1491.0,217.4 1493.0,217.7 1495.0,218.1 1497.0,218.5 1499.0,218.8 1501.0,219.2 1503.0,219.5 1505.0,219.9 1507.0,220.2 1509.0,220.6 1511.0,220.9 1513.0,221.2 1515.0,221.6 1517.0,221.9 1519.0,222.3 1521.0,222.6 1523.0,222.9 1525.0,223.3 1527.0,223.6 1529.0,223.9 1531.0,224.2 1533.0,224.6 1535.0,224.9 1537.0,225.2 1539.0,225.5 1541.0,225.9 1543.0,226.2 1545.0,226.5 1547.0,226.8 1549.0,227.2 1551.0,227.5 1553.0,227.8 1555.0,228.1 1557.0,228.4 1559.0,228.7 1561.0,229.1 1563.0,229.4 1565.0,229.7 1567.0,230.0 1569.0,230.3 1571.0,230.6 1573.0,230.9 1575.0,231.2 1577.0,231.5 1579.0,231.8 1581.0,232.1 1583.0,232.3 1585.0,232.6 1587.0,232.9 1589.0,233.2 1591.0,233.5 1593.0,233.8 1595.0,234.1 1597.0,234.4 1599.0,234.7 1601.0,235.0 1603.0,235.3 1605.0,235.6 1607.0,235.9 1609.0,236.2 1611.0,236.5 1613.0,236.8 1615.0,237.1 1617.0,237.4 1619.0,237.7 1621.0,238.1 1623.0,238.4 1625.0,238.7 1627.0,239.1 1629.0,239.4 1631.0,239.7 1633.0,240.1 1635.0,240.4 1637.0,240.8 1639.0,241.1 1641.0,241.5 1643.0,241.8 1645.0,242.2 1647.0,242.5 1649.0,242.9 1651.0,243.3 1653.0,243.6 1655.0,244.0 1657.0,244.4 1659.0,244.7 1661.0,245.1 1663.0,245.5 1665.0,245.8 1667.0,246.2 1669.0,246.6" fill="none" stroke="#32cd32" stroke-width="1" />
<polyline points="5.0,63.6 7.0,63.7 9.0,63.8 11.0,63.9 13.0,64.1 15.0,64.2 17.0,64.4 19.0,64.5 21.0,64.7 23.0,64.9 25.0,65.2 27.0,65.4 29.0,65.7 31.0,66.0 33.0,66.3 35.0,66.6 37.0,66.9 39.0,67.1 41.0,67.4 43.0,67.5 45.0,67.7 47.0,67.9 49.0,68.0 51.0,68.1 53.0,68.2 55.0,68.4 57.0,68.5 59.0,68.6 61.0,68.7 63.0,68.9 65.0,69.1 67.0,69.2 69.0,69.5 71.0,69.7 73.0,70.0 75.0,70.4 77.0,70.7 79.0,71.1 81.0,71.5 83.0,71.9 85.0,72.3 87.0,72.7 89.0,73.1 91.0,73.5 93.0,74.0 95.0,74.4 97.0,75.0 99.0,75.5 101.0,76.1 103.0,77.0 105.0,77.9 107.0,78.8 109.0,79.4 111.0,79.7 113.0,79.9 115.0,80.1 117.0,80.2 119.0,80.3 121.0,80.4 123.0,80.5 125.0,80.7 127.0,80.8 129.0,80.9 131.0,81.1 133.0,81.2 135.0,81.4 137.0,81.5 139.0,81.7 141.0,81.9 143.0,82.1 145.0,82.2 147.0,82.4 149.0,82.6 151.0,82.9 153.0,83.1 155.0,83.4 157.0,83.6 159.0,83.9 161.0,84.2 163.0,84.4 165.0,84.7 167.0,84.9 169.0,85.1 171.0,85.4 173.0,85.6 175.0,85.8 177.0,86.0 179.0,86.2 181.0,86.4 183.0,86.6 185.0,86.7 187.0,86.9 189.0,87.1 191.0,87.2 193.0,87.4 195.0,87.5 197.0,87.7 199.0,87.8 201.0,87.9 203.0,88.0 205.0,88.1 207.0,88.1 209.0,88.1 211.0,88.1 213.0,88.1 215.0,88.1 217.0,88.0 219.0,88.0 221.0,88.0 223.0,87.9 225.0,87.9 227.0,87.8 229.0,87.6 231.0,87.3 233.0,87.1 235.0,86.8 237.0,86.5 239.0,86.2 241.0,86.0 243.0,85.8 245.0,85.6 247.0,85.4 249.0,85.2 251.0,85.0 253.0,84.8 255.0,84.6 257.0,84.5 259.0,84.3 261.0,84.1 263.0,83.8 265.0,83.7 267.0,83.5 269.0,83.4 271.0,83.4 273.0,83.4 275.0,83.5 277.0,83.6 279.0,83.8 281.0,83.9 283.0,84.1 285.0,84.3 287.0,84.5 289.0,84.6 291.0,84.8 293.0,85.0 295.0,85.2 297.0,85.4 299.0,85.6 301.0,85.8 303.0,86.0 305.0,86.2 307.0,86.4 309.0,86.6 311.0,86.8 313.0,87.1 315.0,87.3 317.0,87.6 319.0,87.9 321.0,88.2 323.0,88.4 325.0,88.7 327.0,88.9 329.0,89.1 331.0,89.2 333.0,89.2 335.0,89.2 337.0,89.2 339.0,89.2 341.0,89.2 343.0,89.3 345.0,89.3 347.0,89.3 349.0,89.3 351.0,89.3 353.0,89.5 355.0,89.7 357.0,90.0 359.0,90.3 361.0,90.8 363.0,91.2 365.0,91.7 367.0,92.2 369.0,92.7 371.0,93.2 373.0,93.6 375.0,94.0 377.0,94.4 379.0,94.8 381.0,95.1 383.0,95.5 385.0,95.9 387.0,96.3 389.0,96.7 391.0,97.0 393.0,97.4 395.0,97.8 397.0,98.1 399.0,98.5 401.0,98.8 403.0,99.2 405.0,99.5 407.0,99.8 409.0,100.2 411.0,100.5 413.0,100.8 415.0,101.1 417.0,101.4 419.0,101.6 421.0,101.8 423.0,102.0 425.0,102.2 427.0,102.4 429.0,102.6 431.0,102.7 433.0,102.9 435.0,103.0 437.0,103.1 439.0,103.2 441.0,103.3 443.0,103.3 445.0,103.3 447.0,103.3 449.0,103.3 451.0,103.4 453.0,103.4 455.0,103.4 457.0,103.4 459.0,103.4 461.0,103.4 463.0,103.4 465.0,103.4 467.0,103.4 469.0,103.4 471.0,103.4 473.0,103.4 475.0,103.4 477.0,103.4 479.0,103.4 481.0,103.5 483.0,103.5 485.0,103.5 487.0,103.5 489.0,103.5 491.0,103.6 493.0,103.7 495.0,103.8 497.0,103.9 499.0,104.0 501.0,104.1 503.0,104.2 505.0,104.3 507.0,104.5 509.0,104.5 511.0,104.6 513.0,104.7 515.0,104.8 517.0,104.8 519.0,104.9 521.0,105.0 523.0,105.1 525.0,105.2 527.0,105.3 529.0,105.5 531.0,105.7 533.0,105.9 535.0,106.2 537.0,106.5 539.0,106.8 541.0,107.1 543.0,107.4 545.0,107.8 547.0,108.1 549.0,108.5 551.0,108.9 553.0,109.2 555.0,109.6 557.0,109.9 559.0,110.2 561.0,110.5 563.0,110.8 565.0,111.1 567.0,111.4 569.0,111.7 571.0,112.0 573.0,112.4 575.0,112.7 577.0,113.0 579.0,113.3 581.0,113.6 583.0,114.0 585.0,114.3 587.0,114.6 589.0,115.0 591.0,115.4 593.0,115.8 595.0,116.2 597.0,116.6 599.0,117.0 601.0,117.5 603.0,118.0 605.0,118.5 607.0,119.1 609.0,119.7 611.0,120.3 613.0,120.9 615.0,121.5 617.0,122.1 619.0,122.7 621.0,123.3 623.0,123.9 625.0,124.4 627.0,125.0 629.0,125.6 631.0,126.1 633.0,126.7 635.0,127.3 637.0,127.9 639.0,128.5 641.0,129.1 643.0,129.7 645.0,130.3 647.0,130.9 649.0,131.5 651.0,132.2 653.0,132.8 655.0,133.5 657.0,134.1 659.0,134.8 661.0,135.5 663.0,136.2 665.0,136.9 667.0,137.6 669.0,138.3 671.0,139.0 673.0,139.8 675.0,140.5 677.0,141.3 679.0,142.0 681.0,142.8 683.0,143.7 685.0,144.6 687.0,145.5 689.0,146.6 691.0,147.6 693.0,148.6 695.0,149.5 697.0,150.4 699.0,151.1 701.0,151.7 703.0,152.2 705.0,152.7 707.0,153.1 709.0,153.5 711.0,153.9 713.0,154.3 715.0,154.6 717.0,155.0 719.0,155.3 721.0,155.6 723.0,155.9 725.0,156.2 727.0,156.5 729.0,156.8 731.0,157.1 733.0,157.3 735.0,157.6 737.0,157.8 739.0,158.1 741.0,158.3 743.0,158.6 745.0,158.8 747.0,159.0 749.0,159.2 751.0,159.5 753.0,159.7 755.0,159.9 757.0,160.2 759.0,160.4 761.0,160.7 763.0,160.9 765.0,161.2 767.0,161.5 769.0,161.7 771.0,162.0 773.0,162.3 775.0,162.5 777.0,162.8 779.0,163.1 781.0,163.4 783.0,163.6 785.0,163.9 787.0,164.2 789.0,164.4 791.0,164.7 793.0,164.9 795.0,165.2 797.0,165.4 799.0,165.7 801.0,165.9 803.0,166.1 805.0,166.3 807.0,166.5 809.0,166.7 811.0,167.0 813.0,167.2 815.0,167.4 817.0,167.7 819.0,167.9 821.0,168.2 823.0,168.5 825.0,168.8 827.0,169.1 829.0,169.4 831.0,169.7 833.0,170.1 835.0,170.5 837.0,170.9 839.0,171.3 841.0,171.7 843.0,172.2 845.0,172.7 847.0,173.2 849.0,173.9 851.0,174.5 853.0,175.3 855.0,176.1 857.0,176.9 859.0,177.9 861.0,179.0 863.0,180.3 865.0,181.6 867.0,183.0 869.0,184.2 871.0,185.2 873.0,186.1 875.0,187.0 877.0,187.8 879.0,188.7 881.0,189.5 883.0,190.3 885.0,191.1 887.0,192.0 889.0,192.9 891.0,193.9 893.0,194.9 895.0,195.9 897.0,196.9 899.0,197.9 901.0,198.9 903.0,199.9 905.0,200.9 907.0,202.0 909.0,202.9 911.0,203.9 913.0,204.9 915.0,205.9 917.0,206.9 919.0,207.8 921.0,208.8 923.0,209.8 925.0,210.8 927.0,211.9 929.0,213.0 931.0,214.1 933.0,215.2 935.0,216.4 937.0,217.6 939.0,218.9 941.0,220.1 943.0,221.3 945.0,222.5 947.0,223.7 949.0,224.8 951.0,225.9 953.0,227.0 955.0,228.1 957.0,229.2 959.0,230.3 961.0,231.3 963.0,232.4 965.0,233.4 967.0,234.5 969.0,235.5 971.0,236.5 973.0,237.5 975.0,238.6 977.0,239.6 979.0,240.7 981.0,241.7 983.0,242.7 985.0,243.6 987.0,244.5 989.0,245.3 991.0,246.1 993.0,246.7 995.0,247.2 997.0,247.7 999.0,248.3 1001.0,249.0 1003.0,249.9 1005.0,251.1 1007.0,252.3 1009.0,253.6 1011.0,254.9 1013.0,256.2 1015.0,257.4 1017.0,258.7 1019.0,260.0 1021.0,261.3 1023.0,262.6 1025.0,263.9 1027.0,265.1 1029.0,266.3 1031.0,267.5 1033.0,268.5 1035.0,269.5 1037.0,270.4 1039.0,271.3 1041.0,272.2 1043.0,273.1 1045.0,274.0 1047.0,274.9 1049.0,275.8 1051.0,276.7 1053.0,277.5 1055.0,278.4 1057.0,279.3 1059.0,280.2 1061.0,281.1 1063.0,282.0 1065.0,282.9 1067.0,283.9 1069.0,284.8 1071.0,285.7 1073.0,286.6 1075.0,287.5 1077.0,288.4 1079.0,289.2 1081.0,290.1 1083.0,291.0 1085.0,291.8 1087.0,292.7 1089.0,293.5 1091.0,294.4 1093.0,295.2 1095.0,296.1 1097.0,296.9 1099.0,297.7 1101.0,298.6 1103.0,299.4 1105.0,300.2 1107.0,301.1 1109.0,301.9 1111.0,302.7 1113.0,303.5 1115.0,304.3 1117.0,305.1 1119.0,305.9 1121.0,306.7 1123.0,307.5 1125.0,308.3 1127.0,309.1 1129.0,309.9 1131.0,310.7 1133.0,311.5 1135.0,312.3 1137.0,313.2 1139.0,314.0 1141.0,314.8 1143.0,315.7 1145.0,316.5 1147.0,317.4 1149.0,318.2 1151.0,319.0 1153.0,319.9 1155.0,320.7 1157.0,321.5 1159.0,322.4 1161.0,323.2 1163.0,324.0 1165.0,324.8 1167.0,325.6 1169.0,326.4 1171.0,327.2 1173.0,328.0 1175.0,328.8 1177.0,329.6 1179.0,330.3 1181.0,331.1 1183.0,331.9 1185.0,332.6 1187.0,333.4 1189.0,334.1 1191.0,334.8 1193.0,335.5 1195.0,336.2 1197.0,336.9 1199.0,337.5 1201.0,338.2 1203.0,338.8 1205.0,339.5 1207.0,340.1 1209.0,340.8 1211.0,341.4 1213.0,342.0 1215.0,342.7 1217.0,343.3 1219.0,344.0 1221.0,344.6 1223.0,345.3 1225.0,345.9 1227.0,346.6 1229.0,347.2 1231.0,347.8 1233.0,348.4 1235.0,349.0 1237.0,349.6 1239.0,350.2 1241.0,350.7 1243.0,351.3 1245.0,351.8 1247.0,352.3 1249.0,352.8 1251.0,353.3 1253.0,353.8 1255.0,354.3 1257.0,354.8 1259.0,355.3 1261.0,355.8 1263.0,356.3 1265.0,356.8 1267.0,357.3 1269.0,357.8 1271.0,358.3 1273.0,358.7 1275.0,359.1 1277.0,359.5 1279.0,359.8 1281.0,360.1 1283.0,360.4 1285.0,360.7 1287.0,361.0 1289.0,361.2 1291.0,361.3 1293.0,361.4 1295.0,361.3 1297.0,361.2 1299.0,360.9 1301.0,360.6 1303.0,360.3 1305.0,360.0 1307.0,359.8 1309.0,359.7 1311.0,359.7 1313.0,359.7 1315.0,359.8 1317.0,359.9 1319.0,360.0 1321.0,360.1 1323.0,360.2 1325.0,360.3 1327.0,360.4 1329.0,360.4 1331.0,360.4 1333.0,360.4 1335.0,360.4 1337.0,360.4 1339.0,360.4 1341.0,360.4 1343.0,360.4 1345.0,360.4 1347.0,360.4 1349.0,360.3 1351.0,360.1 1353.0,360.0 1355.0,359.8 1357.0,359.5 1359.0,359.2 1361.0,359.0 1363.0,358.7 1365.0,358.4 1367.0,358.1 1369.0,357.8 1371.0,357.4 1373.0,357.0 1375.0,356.6 1377.0,356.1 1379.0,355.7 1381.0,355.2 1383.0,354.8 1385.0,354.4 1387.0,353.9 1389.0,353.5 1391.0,353.0 1393.0,352.5 1395.0,352.1 1397.0,351.6 1399.0,351.2 1401.0,350.7 1403.0,350.3 1405.0,349.9 1407.0,349.5 1409.0,349.2 1411.0,348.8 1413.0,348.5 1415.0,348.2 1417.0,347.9 1419.0,347.6 1421.0,347.3 1423.0,347.0 1425.0,346.7 1427.0,346.4 1429.0,346.1 1431.0,345.8 1433.0,345.5 1435.0,345.2 1437.0,344.8 1439.0,344.5 1441.0,344.2 1443.0,343.9 1445.0,343.5 1447.0,343.2 1449.0,342.8 1451.0,342.5 1453.0,342.2 1455.0,341.8 1457.0,341.4 1459.0,341.1 1461.0,340.7 1463.0,340.3 1465.0,339.9 1467.0,339.6 1469.0,339.2 1471.0,338.9 1473.0,338.5 1475.0,338.2 1477.0,337.9 1479.0,337.7 1481.0,337.4 1483.0,337.1 1485.0,336.9 1487.0,336.6 1489.0,336.3 1491.0,336.0 1493.0,335.6 1495.0,335.3 1497.0,335.0 1499.0,334.6 1501.0,334.2 1503.0,333.9 1505.0,333.5 1507.0,333.2 1509.0,332.8 1511.0,332.5 1513.0,332.1 1515.0,331.8 1517.0,331.4 1519.0,331.1 1521.0,330.7 1523.0,330.4 1525.0,330.0 1527.0,329.6 1529.0,329.2 1531.0,328.8 1533.0,328.4 1535.0,327.9 1537.0,327.5 1539.0,327.0 1541.0,326.6 1543.0,326.1 1545.0,325.6 1547.0,325.2 1549.0,324.7 1551.0,324.2 1553.0,323.7 1555.0,323.2 1557.0,322.7 1559.0,322.2 1561.0,321.8 1563.0,321.3 1565.0,320.9 1567.0,320.5 1569.0,320.2 1571.0,319.9 1573.0,319.5 1575.0,319.2 1577.0,318.9 1579.0,318.6 1581.0,318.3 1583.0,318.0 1585.0,317.7 1587.0,317.4 1589.0,317.1 1591.0,316.8 1593.0,316.6 1595.0,316.3 1597.0,316.1 1599.0,315.9 1601.0,315.7 1603.0,315.4 1605.0,315.2 1607.0,315.0 1609.0,314.9 1611.0,314.9 1613.0,315.0 1615.0,315.1 1617.0,315.3 1619.0,315.5 1621.0,315.7 1623.0,315.9 1625.0,316.2 1627.0,316.4 1629.0,316.7 1631.0,317.0 1633.0,317.4 1635.0,317.7 1637.0,318.1 1639.0,318.5 1641.0,319.0 1643.0,319.6 1645.0,320.3 1647.0,321.0 1649.0,321.6 1651.0,322.2 1653.0,322.6 1655.0,322.9 1657.0,323.3 1659.0,323.6 1661.0,323.8 1663.0,324.1 1665.0,324.3 1667.0,324.4 1669.0,324.5" fill="none" stroke="#ff00ff" stroke-width="1" />
<polyline points="5.0,62.2 7.0,62.9 9.0,63.5 11.0,64.2 13.0,64.8 15.0,65.5 17.0,66.1 19.0,66.8 21.0,67.5 23.0,68.2 25.0,68.9 27.0,69.7 29.0,70.4 31.0,71.2 33.0,71.9 35.0,72.6 37.0,73.2 39.0,73.8 41.0,74.3 43.0,74.7 45.0,75.0 47.0,75.3 49.0,75.6 51.0,75.8 53.0,76.1 55.0,76.3 57.0,76.6 59.0,76.9 61.0,77.3 63.0,77.7 65.0,78.2 67.0,78.7 69.0,79.4 71.0,80.2 73.0,81.3 75.0,82.5 77.0,83.8 79.0,85.1 81.0,86.3 83.0,87.5 85.0,88.6 87.0,89.7 89.0,90.8 91.0,91.9 93.0,92.9 95.0,94.0 97.0,95.0 99.0,96.1 101.0,97.1 103.0,98.1 105.0,99.0 107.0,100.0 109.0,101.0 111.0,101.9 113.0,102.8 115.0,103.6 117.0,104.4 119.0,105.1 121.0,105.8 123.0,106.5 125.0,107.1 127.0,107.7 129.0,108.3 131.0,108.8 133.0,109.3 135.0,109.8 137.0,110.2 139.0,110.7 141.0,111.1 143.0,111.5 145.0,111.8 147.0,112.1 149.0,112.3 151.0,112.5 153.0,112.7 155.0,112.9 157.0,113.1 159.0,113.2 161.0,113.4 163.0,113.4 165.0,113.5 167.0,113.5 169.0,113.5 171.0,113.5 173.0,113.5 175.0,113.5 177.0,113.5 179.0,113.5 181.0,113.5 183.0,113.5 185.0,113.4 187.0,113.1 189.0,112.7 191.0,112.2 193.0,111.6 195.0,111.0 197.0,110.4 199.0,109.8 201.0,109.3 203.0,108.7 205.0,108.2 207.0,107.6 209.0,107.0 211.0,106.4 213.0,105.8 215.0,105.3 217.0,104.7 219.0,104.3 221.0,103.8 223.0,103.4 225.0,102.9 227.0,102.4 229.0,101.8 231.0,101.2 233.0,100.4 235.0,99.6 237.0,98.8 239.0,97.8 241.0,96.9 243.0,95.9 245.0,94.7 247.0,93.5 249.0,92.2 251.0,91.0 253.0,89.8 255.0,88.7 257.0,87.7 259.0,86.6 261.0,85.6 263.0,84.7 265.0,83.8 267.0,82.9 269.0,82.0 271.0,81.1 273.0,80.3 275.0,79.8 277.0,79.6 279.0,79.5 281.0,79.4 283.0,79.3 285.0,79.3 287.0,79.2 289.0,79.2 291.0,79.2 293.0,79.2 295.0,79.3 297.0,79.3 299.0,79.4 301.0,79.5 303.0,79.6 305.0,79.7 307.0,80.0 309.0,80.3 311.0,80.6 313.0,80.9 315.0,81.2 317.0,81.4 319.0,81.6 321.0,81.8 323.0,82.0 325.0,82.1 327.0,82.3 329.0,82.4 331.0,82.6 333.0,82.7 335.0,82.9 337.0,83.0 339.0,83.1 341.0,83.2 343.0,83.4 345.0,83.7 347.0,84.2 349.0,84.7 351.0,85.2 353.0,85.8 355.0,86.4 357.0,86.9 359.0,87.3 361.0,87.6 363.0,87.9 365.0,88.1 367.0,88.3 369.0,88.5 371.0,88.7 373.0,88.8 375.0,89.0 377.0,89.3 379.0,89.5 381.0,89.8 383.0,90.2 385.0,90.6 387.0,91.1 389.0,91.7 391.0,92.3 393.0,93.1 395.0,94.1 397.0,95.3 399.0,96.6 401.0,97.9 403.0,99.1 405.0,100.3 407.0,101.4 409.0,102.6 411.0,103.8 413.0,105.0 415.0,106.1 417.0,107.2 419.0,108.2 421.0,109.2 423.0,110.2 425.0,111.2 427.0,112.1 429.0,112.9 431.0,113.6 433.0,113.9 435.0,114.1 437.0,114.2 439.0,114.3 441.0,114.4 443.0,114.5 445.0,114.6 447.0,114.6 449.0,114.7 451.0,114.7 453.0,114.8 455.0,114.8 457.0,114.9 459.0,115.0 461.0,115.0 463.0,115.1 465.0,115.2 467.0,115.4 469.0,115.6 471.0,115.8 473.0,116.0 475.0,116.3 477.0,116.6 479.0,116.9 481.0,117.1 483.0,117.4 485.0,117.6 487.0,117.9 489.0,118.1 491.0,118.4 493.0,118.6 495.0,118.8 497.0,119.1 499.0,119.3 501.0,119.6 503.0,119.8 505.0,120.1 507.0,120.4 509.0,120.6 511.0,120.9 513.0,121.2 515.0,121.5 517.0,121.8 519.0,122.1 521.0,122.4 523.0,122.8 525.0,123.2 527.0,123.7 529.0,124.4 531.0,125.2 533.0,126.2 535.0,127.3 537.0,128.5 539.0,129.7 541.0,130.9 543.0,132.0 545.0,133.0 547.0,134.0 549.0,134.9 551.0,135.9 553.0,136.8 555.0,137.8 557.0,138.7 559.0,139.5 561.0,140.3 563.0,141.0 565.0,141.6 567.0,142.2 569.0,142.7 571.0,143.2 573.0,143.7 575.0,144.1 577.0,144.5 579.0,144.9 581.0,145.2 583.0,145.5 585.0,145.8 587.0,146.1 589.0,146.3 591.0,146.7 593.0,147.0 595.0,147.5 597.0,148.2 599.0,149.1 601.0,150.2 603.0,151.3 605.0,152.4 607.0,153.5 609.0,154.6 611.0,155.7 613.0,156.8 615.0,158.0 617.0,159.2 619.0,160.4 621.0,161.6 623.0,162.9 625.0,164.3 627.0,165.7 629.0,167.1 631.0,168.6 633.0,170.0 635.0,171.5 637.0,172.9 639.0,174.3 641.0,175.7 643.0,177.2 645.0,178.7 647.0,180.2 649.0,181.6 651.0,183.1 653.0,184.4 655.0,185.7 657.0,186.8 659.0,187.8 661.0,188.6 663.0,189.4 665.0,190.1 667.0,190.8 669.0,191.6 671.0,192.4 673.0,193.3 675.0,194.3 677.0,195.2 679.0,196.2 681.0,197.1 683.0,198.0 685.0,198.8 687.0,199.6 689.0,200.3 691.0,201.0 693.0,201.6 695.0,202.2 697.0,202.8 699.0,203.2 701.0,203.6 703.0,203.9 705.0,204.2 707.0,204.4 709.0,204.4 711.0,204.1 713.0,203.7 715.0,203.3 717.0,202.8 719.0,202.3 721.0,202.0 723.0,201.7 725.0,201.4 727.0,201.2 729.0,200.9 731.0,200.7 733.0,200.5 735.0,200.3 737.0,200.1 739.0,200.0 741.0,200.0 743.0,200.0 745.0,200.0 747.0,200.0 749.0,200.0 751.0,200.0 753.0,200.0 755.0,200.0 757.0,200.0 759.0,200.0 761.0,200.0 763.0,200.0 765.0,199.9 767.0,199.6 769.0,199.3 771.0,199.0 773.0,198.5 775.0,198.1 777.0,197.5 779.0,197.0 781.0,196.5 783.0,196.0 785.0,195.5 787.0,194.9 789.0,194.2 791.0,193.5 793.0,192.8 795.0,192.0 797.0,191.3 799.0,190.5 801.0,189.8 803.0,189.1 805.0,188.5 807.0,187.8 809.0,187.1 811.0,186.4 813.0,185.8 815.0,185.1 817.0,184.5 819.0,183.9 821.0,183.4 823.0,182.9 825.0,182.5 827.0,182.2 829.0,181.8 831.0,181.6 833.0,181.5 835.0,181.6 837.0,181.8 839.0,182.1 841.0,182.5 843.0,183.0 845.0,183.5 847.0,184.1 849.0,184.9 851.0,185.9 853.0,187.0 855.0,188.3 857.0,189.7 859.0,191.4 861.0,193.4 863.0,195.6 865.0,197.8 867.0,199.8 869.0,201.6 871.0,202.9 873.0,204.0 875.0,204.9 877.0,205.9 879.0,207.2 881.0,208.7 883.0,210.3 885.0,212.2 887.0,214.1 889.0,216.1 891.0,218.1 893.0,220.1 895.0,222.0 897.0,223.8 899.0,225.6 901.0,227.4 903.0,229.2 905.0,231.0 907.0,232.9 909.0,234.7 911.0,236.6 913.0,238.6 915.0,240.6 917.0,242.6 919.0,244.6 921.0,246.6 923.0,248.7 925.0,250.9 927.0,253.0 929.0,255.3 931.0,257.5 933.0,259.9 935.0,262.3 937.0,264.7 939.0,267.2 941.0,269.8 943.0,272.5 945.0,275.2 947.0,278.1 949.0,281.0 951.0,284.2 953.0,287.6 955.0,290.7 957.0,293.6 959.0,296.4 961.0,299.1 963.0,301.7 965.0,304.3 967.0,306.9 969.0,309.5 971.0,312.1 973.0,314.8 975.0,317.5 977.0,320.2 979.0,322.9 981.0,325.5 983.0,328.1 985.0,330.6 987.0,333.0 989.0,335.2 991.0,337.5 993.0,339.6 995.0,341.7 997.0,343.9 999.0,346.0 1001.0,348.2 1003.0,350.4 1005.0,352.5 1007.0,354.7 1009.0,356.9 1011.0,359.0 1013.0,361.1 1015.0,363.5 1017.0,365.9 1019.0,367.8 1021.0,369.0 1023.0,369.6 1025.0,370.1 1027.0,370.5 1029.0,370.8 1031.0,371.1 1033.0,371.6 1035.0,372.2 1037.0,373.3 1039.0,374.7 1041.0,376.3 1043.0,377.8 1045.0,379.1 1047.0,380.2 1049.0,381.3 1051.0,382.2 1053.0,383.2 1055.0,384.1 1057.0,385.1 1059.0,386.1 1061.0,387.1 1063.0,388.3 1065.0,389.5 1067.0,390.6 1069.0,391.7 1071.0,392.7 1073.0,393.6 1075.0,394.4 1077.0,395.2 1079.0,396.0 1081.0,396.8 1083.0,397.5 1085.0,398.2 1087.0,398.8 1089.0,399.4 1091.0,400.1 1093.0,400.7 1095.0,401.3 1097.0,401.9 1099.0,402.5 1101.0,403.0 1103.0,403.5 1105.0,403.9 1107.0,404.3 1109.0,404.5 1111.0,404.8 1113.0,405.0 1115.0,405.2 1117.0,405.4 1119.0,405.4 1121.0,405.3 1123.0,405.1 1125.0,404.8 1127.0,404.5 1129.0,404.1 1131.0,403.8 1133.0,403.6 1135.0,403.4 1137.0,403.3 1139.0,403.1 1141.0,403.0 1143.0,402.8 1145.0,402.7 1147.0,402.5 1149.0,402.4 1151.0,402.2 1153.0,402.1 1155.0,401.9 1157.0,401.8 1159.0,401.6 1161.0,401.4 1163.0,401.3 1165.0,401.1 1167.0,400.9 1169.0,400.7 1171.0,400.4 1173.0,400.1 1175.0,399.7 1177.0,399.0 1179.0,397.9 1181.0,396.6 1183.0,395.3 1185.0,394.0 1187.0,392.8 1189.0,391.7 1191.0,390.5 1193.0,389.3 1195.0,388.0 1197.0,386.7 1199.0,385.4 1201.0,384.0 1203.0,382.5 1205.0,381.0 1207.0,379.4 1209.0,377.8 1211.0,376.2 1213.0,374.6 1215.0,373.1 1217.0,371.7 1219.0,370.3 1221.0,369.0 1223.0,367.6 1225.0,366.3 1227.0,365.0 1229.0,363.7 1231.0,362.5 1233.0,361.3 1235.0,360.1 1237.0,359.0 1239.0,357.9 1241.0,356.9 1243.0,356.0 1245.0,355.1 1247.0,354.2 1249.0,353.2 1251.0,352.3 1253.0,351.4 1255.0,350.4 1257.0,349.4 1259.0,348.3 1261.0,347.1 1263.0,345.9 1265.0,344.7 1267.0,343.4 1269.0,342.0 1271.0,340.5 1273.0,338.8 1275.0,337.1 1277.0,335.4 1279.0,333.7 1281.0,332.2 1283.0,330.7 1285.0,329.3 1287.0,328.0 1289.0,326.7 1291.0,325.4 1293.0,324.2 1295.0,323.1 1297.0,322.0 1299.0,321.0 1301.0,320.1 1303.0,319.1 1305.0,318.3 1307.0,317.4 1309.0,316.6 1311.0,315.8 1313.0,315.1 1315.0,314.4 1317.0,313.8 1319.0,313.2 1321.0,312.8 1323.0,312.3 1325.0,311.9 1327.0,311.6 1329.0,311.2 1331.0,310.9 1333.0,310.6 1335.0,310.3 1337.0,310.0 1339.0,309.7 1341.0,309.5 1343.0,309.2 1345.0,309.0 1347.0,308.8 1349.0,308.6 1351.0,308.4 1353.0,308.2 1355.0,308.0 1357.0,307.8 1359.0,307.6 1361.0,307.4 1363.0,307.3 1365.0,307.1 1367.0,306.9 1369.0,306.7 1371.0,306.6 1373.0,306.4 1375.0,306.3 1377.0,306.1 1379.0,306.1 1381.0,306.0 1383.0,306.0 1385.0,306.0 1387.0,306.0 1389.0,306.0 1391.0,306.1 1393.0,306.1 1395.0,306.1 1397.0,306.1 1399.0,306.2 1401.0,306.2 1403.0,306.3 1405.0,306.3 1407.0,306.4 1409.0,306.5 1411.0,306.7 1413.0,307.0 1415.0,307.3 1417.0,307.8 1419.0,308.2 1421.0,308.7 1423.0,309.1 1425.0,309.5 1427.0,309.9 1429.0,310.2 1431.0,310.5 1433.0,310.8 1435.0,311.2 1437.0,311.5 1439.0,311.8 1441.0,312.1 1443.0,312.5 1445.0,312.9 1447.0,313.3 1449.0,313.8 1451.0,314.2 1453.0,314.7 1455.0,315.2 1457.0,315.7 1459.0,316.1 1461.0,316.6 1463.0,317.0 1465.0,317.5 1467.0,317.9 1469.0,318.3 1471.0,318.7 1473.0,319.1 1475.0,319.4 1477.0,319.6 1479.0,319.9 1481.0,320.1 1483.0,320.3 1485.0,320.5 1487.0,320.7 1489.0,320.9 1491.0,321.1 1493.0,321.3 1495.0,321.4 1497.0,321.5 1499.0,321.6 1501.0,321.7 1503.0,321.8 1505.0,321.9 1507.0,322.0 1509.0,322.0 1511.0,322.1 1513.0,322.1 1515.0,322.2 1517.0,322.2 1519.0,322.3 1521.0,322.4 1523.0,322.4 1525.0,322.5 1527.0,322.6 1529.0,322.7 1531.0,322.8 1533.0,323.0 1535.0,323.2 1537.0,323.4 1539.0,323.6 1541.0,323.7 1543.0,323.8 1545.0,323.9 1547.0,323.9 1549.0,323.8 1551.0,323.7 1553.0,323.6 1555.0,323.5 1557.0,323.3 1559.0,323.2 1561.0,323.1 1563.0,323.0 1565.0,323.0 1567.0,323.0 1569.0,323.0 1571.0,323.0 1573.0,323.0 1575.0,323.0 1577.0,323.1 1579.0,323.1 1581.0,323.1 1583.0,323.2 1585.0,323.2 1587.0,323.2 1589.0,323.3 1591.0,323.3 1593.0,323.4 1595.0,323.4 1597.0,323.5 1599.0,323.5 1601.0,323.7 1603.0,323.9 1605.0,324.2 1607.0,324.4 1609.0,324.7 1611.0,325.0 1613.0,325.3 1615.0,325.7 1617.0,326.1 1619.0,326.5 1621.0,326.9 1623.0,327.4 1625.0,327.8 1627.0,328.3 1629.0,328.7 1631.0,329.1 1633.0,329.6 1635.0,330.0 1637.0,330.5 1639.0,331.0 1641.0,331.4 1643.0,331.9 1645.0,332.4 1647.0,332.8 1649.0,333.2 1651.0,333.6 1653.0,334.0 1655.0,334.4 1657.0,334.7 1659.0,335.0 1661.0,335.4 1663.0,335.7 1665.0,336.0 1667.0,336.2 1669.0,336.5" fill="none" stroke="#ffa500" stroke-width="1" />
<rect x="5" y="238" width="1685" height="2" fill="#ff0000"/>
<rect x="5" y="280" width="1685" height="2" fill="#ff0000"/>
<rect x="5" y="344" width="1685" height="2" fill="#32cd32"/>
<rect x="5" y="398" width="1685" height="2" fill="#4169e1"/>
<rect x="5" y="451" width="1685" height="2" fill="#4169e1"/>
<rect x="5" y="571" width="1" height="2" fill="#c0c0c0"/>
<rect x="13" y="571" width="1" height="5" fill="#c0c0c0"/>
<rect x="21" y="571" width="1" height="11" fill="#c0c0c0"/>
<rect x="29" y="571" width="1" height="18" fill="#c0c0c0"/>
<rect x="37" y="571" width="1" height="24" fill="#c0c0c0"/>
<rect x="45" y="571" width="1" height="28" fill="#c0c0c0"/>
<rect x="53" y="571" width="1" height="28" fill="#c0c0c0"/>
<rect x="61" y="571" width="1" height="23" fill="#c0c0c0"/>
<rect x="69" y="571" width="1" height="24" fill="#c0c0c0"/>
<rect x="77" y="571" width="1" height="30" fill="#c0c0c0"/>
<rect x="85" y="571" width="1" height="32" fill="#c0c0c0"/>
<rect x="93" y="571" width="1" height="34" fill="#c0c0c0"/>
<rect x="101" y="571" width="1" height="36" fill="#c0c0c0"/>
<rect x="109" y="571" width="1" height="37" fill="#c0c0c0"/>
<rect x="117" y="571" width="1" height="31" fill="#c0c0c0"/>
<rect x="125" y="571" width="1" height="25" fill="#c0c0c0"/>
<rect x="133" y="571" width="1" height="21" fill="#c0c0c0"/>
<rect x="141" y="571" width="1" height="16" fill="#c0c0c0"/>
<rect x="149" y="571" width="1" height="11" fill="#c0c0c0"/>
<rect x="157" y="571" width="1" height="7" fill="#c0c0c0"/>
<rect x="165" y="571" width="1" height="3" fill="#c0c0c0"/>
<rect x="173" y="571" width="1" height="2" fill="#c0c0c0"/>
<rect x="189" y="570" width="1" height="2" fill="#c0c0c0"/>
<rect x="197" y="570" width="1" height="2" fill="#c0c0c0"/>
<rect x="205" y="569" width="1" height="3" fill="#c0c0c0"/>
<rect x="213" y="567" width="1" height="5" fill="#c0c0c0"/>
<rect x="221" y="565" width="1" height="7" fill="#c0c0c0"/>
<rect x="229" y="558" width="1" height="14" fill="#c0c0c0"/>
<rect x="237" y="552" width="1" height="20" fill="#c0c0c0"/>
<rect x="245" y="549" width="1" height="23" fill="#c0c0c0"/>
<rect x="253" y="546" width="1" height="26" fill="#c0c0c0"/>
<rect x="261" y="546" width="1" height="26" fill="#c0c0c0"/>
<rect x="269" y="550" width="1" height="22" fill="#c0c0c0"/>
<rect x="277" y="558" width="1" height="14" fill="#c0c0c0"/>
<rect x="285" y="563" width="1" height="9" fill="#c0c0c0"/>
<rect x="293" y="567" width="1" height="5" fill="#c0c0c0"/>
<rect x="309" y="571" width="1" height="4" fill="#c0c0c0"/>
<rect x="317" y="571" width="1" height="4" fill="#c0c0c0"/>
<rect x="325" y="571" width="1" height="7" fill="#c0c0c0"/>
<rect x="333" y="571" width="1" height="8" fill="#c0c0c0"/>
<rect x="341" y="571" width="1" height="10" fill="#c0c0c0"/>
<rect x="349" y="571" width="1" height="11" fill="#c0c0c0"/>
<rect x="357" y="571" width="1" height="15" fill="#c0c0c0"/>
<rect x="365" y="571" width="1" height="15" fill="#c0c0c0"/>
<rect x="373" y="571" width="1" height="16" fill="#c0c0c0"/>
<rect x="381" y="571" width="1" height="16" fill="#c0c0c0"/>
<rect x="389" y="571" width="1" height="14" fill="#c0c0c0"/>
<rect x="397" y="571" width="1" height="16" fill="#c0c0c0"/>
<rect x="405" y="571" width="1" height="18" fill="#c0c0c0"/>
<rect x="413" y="571" width="1" height="20" fill="#c0c0c0"/>
<rect x="421" y="571" width="1" height="21" fill="#c0c0c0"/>
<rect x="429" y="571" width="1" height="17" fill="#c0c0c0"/>
<rect x="437" y="571" width="1" height="15" fill="#c0c0c0"/>
<rect x="445" y="571" width="1" height="13" fill="#c0c0c0"/>
<rect x="453" y="571" width="1" height="10" fill="#c0c0c0"/>
<rect x="461" y="571" width="1" height="8" fill="#c0c0c0"/>
<rect x="469" y="571" width="1" height="9" fill="#c0c0c0"/>
<rect x="477" y="571" width="1" height="9" fill="#c0c0c0"/>
<rect x="485" y="571" width="1" height="9" fill="#c0c0c0"/>
<rect x="493" y="571" width="1" height="11" fill="#c0c0c0"/>
<rect x="501" y="571" width="1" height="11" fill="#c0c0c0"/>
<rect x="509" y="571" width="1" height="13" fill="#c0c0c0"/>
<rect x="517" y="571" width="1" height="15" fill="#c0c0c0"/>
<rect x="525" y="571" width="1" height="20" fill="#c0c0c0"/>
<rect x="533" y="571" width="1" height="26" fill="#c0c0c0"/>
<rect x="541" y="571" width="1" height="33" fill="#c0c0c0"/>
<rect x="549" y="571" width="1" height="39" fill="#c0c0c0"/>
<rect x="557" y="571" width="1" height="41" fill="#c0c0c0"/>
<rect x="565" y="571" width="1" height="42" fill="#c0c0c0"/>
<rect x="573" y="571" width="1" height="39" fill="#c0c0c0"/>
<rect x="581" y="571" width="1" height="36" fill="#c0c0c0"/>
<rect x="589" y="571" width="1" height="32" fill="#c0c0c0"/>
<rect x="597" y="571" width="1" height="28" fill="#c0c0c0"/>
<rect x="605" y="571" width="1" height="34" fill="#c0c0c0"/>
<rect x="613" y="571" width="1" height="37" fill="#c0c0c0"/>
<rect x="621" y="571" width="1" height="41" fill="#c0c0c0"/>
<rect x="629" y="571" width="1" height="44" fill="#c0c0c0"/>
<rect x="637" y="571" width="1" height="46" fill="#c0c0c0"/>
<rect x="645" y="571" width="1" height="46" fill="#c0c0c0"/>
<rect x="653" y="571" width="1" height="45" fill="#c0c0c0"/>
<rect x="661" y="571" width="1" height="46" fill="#c0c0c0"/>
<rect x="669" y="571" width="1" height="41" fill="#c0c0c0"/>
<rect x="677" y="571" width="1" height="38" fill="#c0c0c0"/>
<rect x="685" y="571" width="1" height="36" fill="#c0c0c0"/>
<rect x="693" y="571" width="1" height="34" fill="#c0c0c0"/>
<rect x="701" y="571" width="1" height="33" fill="#c0c0c0"/>
<rect x="709" y="571" width="1" height="33" fill="#c0c0c0"/>
<rect x="717" y="571" width="1" height="24" fill="#c0c0c0"/>
<rect x="725" y="571" width="1" height="16" fill="#c0c0c0"/>
<rect x="733" y="571" width="1" height="11" fill="#c0c0c0"/>
<rect x="741" y="571" width="1" height="5" fill="#c0c0c0"/>
<rect x="757" y="569" width="1" height="3" fill="#c0c0c0"/>
<rect x="765" y="567" width="1" height="5" fill="#c0c0c0"/>
<rect x="773" y="566" width="1" height="6" fill="#c0c0c0"/>
<rect x="781" y="565" width="1" height="7" fill="#c0c0c0"/>
<rect x="789" y="564" width="1" height="8" fill="#c0c0c0"/>
<rect x="797" y="564" width="1" height="8" fill="#c0c0c0"/>
<rect x="805" y="564" width="1" height="8" fill="#c0c0c0"/>
<rect x="813" y="566" width="1" height="6" fill="#c0c0c0"/>
<rect x="821" y="566" width="1" height="6" fill="#c0c0c0"/>
<rect x="829" y="569" width="1" height="3" fill="#c0c0c0"/>
<rect x="837" y="571" width="1" height="1" fill="#c0c0c0"/>
<rect x="845" y="571" width="1" height="11" fill="#c0c0c0"/>
<rect x="853" y="571" width="1" height="21" fill="#c0c0c0"/>
<rect x="861" y="571" width="1" height="45" fill="#c0c0c0"/>
<rect x="869" y="571" width="1" height="64" fill="#c0c0c0"/>
<rect x="877" y="571" width="1" height="69" fill="#c0c0c0"/>
<rect x="885" y="571" width="1" height="71" fill="#c0c0c0"/>
<rect x="893" y="571" width="1" height="72" fill="#c0c0c0"/>
<rect x="901" y="571" width="1" height="72" fill="#c0c0c0"/>
<rect x="909" y="571" width="1" height="73" fill="#c0c0c0"/>
<rect x="917" y="571" width="1" height="79" fill="#c0c0c0"/>
<rect x="925" y="571" width="1" height="77" fill="#c0c0c0"/>
<rect x="933" y="571" width="1" height="75" fill="#c0c0c0"/>
<rect x="941" y="571" width="1" height="81" fill="#c0c0c0"/>
<rect x="949" y="571" width="1" height="85" fill="#c0c0c0"/>
<rect x="957" y="571" width="1" height="90" fill="#c0c0c0"/>
<rect x="965" y="571" width="1" height="95" fill="#c0c0c0"/>
<rect x="973" y="571" width="1" height="97" fill="#c0c0c0"/>
<rect x="981" y="571" width="1" height="94" fill="#c0c0c0"/>
<rect x="989" y="571" width="1" height="87" fill="#c0c0c0"/>
<rect x="997" y="571" width="1" height="81" fill="#c0c0c0"/>
<rect x="1005" y="571" width="1" height="75" fill="#c0c0c0"/>
<rect x="1013" y="571" width="1" height="80" fill="#c0c0c0"/>
<rect x="1021" y="571" width="1" height="81" fill="#c0c0c0"/>
<rect x="1029" y="571" width="1" height="80" fill="#c0c0c0"/>
<rect x="1037" y="571" width="1" height="77" fill="#c0c0c0"/>
<rect x="1045" y="571" width="1" height="75" fill="#c0c0c0"/>
<rect x="1053" y="571" width="1" height="72" fill="#c0c0c0"/>
<rect x="1061" y="571" width="1" height="68" fill="#c0c0c0"/>
<rect x="1069" y="571" width="1" height="62" fill="#c0c0c0"/>
<rect x="1077" y="571" width="1" height="56" fill="#c0c0c0"/>
<rect x="1085" y="571" width="1" height="51" fill="#c0c0c0"/>
<rect x="1093" y="571" width="1" height="44" fill="#c0c0c0"/>
<rect x="1101" y="571" width="1" height="39" fill="#c0c0c0"/>
<rect x="1109" y="571" width="1" height="42" fill="#c0c0c0"/>
<rect x="1117" y="571" width="1" height="42" fill="#c0c0c0"/>
<rect x="1125" y="571" width="1" height="38" fill="#c0c0c0"/>
<rect x="1133" y="571" width="1" height="34" fill="#c0c0c0"/>
<rect x="1141" y="571" width="1" height="30" fill="#c0c0c0"/>
<rect x="1149" y="571" width="1" height="24" fill="#c0c0c0"/>
<rect x="1157" y="571" width="1" height="20" fill="#c0c0c0"/>
<rect x="1165" y="571" width="1" height="12" fill="#c0c0c0"/>
<rect x="1173" y="571" width="1" height="5" fill="#c0c0c0"/>
<rect x="1189" y="565" width="1" height="7" fill="#c0c0c0"/>
<rect x="1197" y="556" width="1" height="16" fill="#c0c0c0"/>
<rect x="1205" y="547" width="1" height="25" fill="#c0c0c0"/>
<rect x="1213" y="542" width="1" height="30" fill="#c0c0c0"/>
<rect x="1221" y="539" width="1" height="33" fill="#c0c0c0"/>
<rect x="1229" y="538" width="1" height="34" fill="#c0c0c0"/>
<rect x="1237" y="537" width="1" height="35" fill="#c0c0c0"/>
<rect x="1245" y="534" width="1" height="38" fill="#c0c0c0"/>
<rect x="1253" y="533" width="1" height="39" fill="#c0c0c0"/>
<rect x="1261" y="532" width="1" height="40" fill="#c0c0c0"/>
<rect x="1269" y="532" width="1" height="40" fill="#c0c0c0"/>
<rect x="1277" y="530" width="1" height="42" fill="#c0c0c0"/>
<rect x="1285" y="531" width="1" height="41" fill="#c0c0c0"/>
<rect x="1293" y="534" width="1" height="38" fill="#c0c0c0"/>
<rect x="1301" y="537" width="1" height="35" fill="#c0c0c0"/>
<rect x="1309" y="544" width="1" height="28" fill="#c0c0c0"/>
<rect x="1317" y="550" width="1" height="22" fill="#c0c0c0"/>
<rect x="1325" y="553" width="1" height="19" fill="#c0c0c0"/>
<rect x="1333" y="557" width="1" height="15" fill="#c0c0c0"/>
<rect x="1341" y="557" width="1" height="15" fill="#c0c0c0"/>
<rect x="1349" y="558" width="1" height="14" fill="#c0c0c0"/>
<rect x="1357" y="557" width="1" height="15" fill="#c0c0c0"/>
<rect x="1365" y="557" width="1" height="15" fill="#c0c0c0"/>
<rect x="1373" y="555" width="1" height="17" fill="#c0c0c0"/>
<rect x="1381" y="554" width="1" height="18" fill="#c0c0c0"/>
<rect x="1389" y="554" width="1" height="18" fill="#c0c0c0"/>
<rect x="1397" y="556" width="1" height="16" fill="#c0c0c0"/>
<rect x="1405" y="558" width="1" height="14" fill="#c0c0c0"/>
<rect x="1413" y="560" width="1" height="12" fill="#c0c0c0"/>
<rect x="1421" y="563" width="1" height="9" fill="#c0c0c0"/>
<rect x="1429" y="566" width="1" height="6" fill="#c0c0c0"/>
<rect x="1437" y="566" width="1" height="6" fill="#c0c0c0"/>
<rect x="1445" y="567" width="1" height="5" fill="#c0c0c0"/>
<rect x="1461" y="571" width="1" height="1" fill="#c0c0c0"/>
<rect x="1469" y="571" width="1" height="4" fill="#c0c0c0"/>
<rect x="1477" y="571" width="1" height="7" fill="#c0c0c0"/>
<rect x="1485" y="571" width="1" height="10" fill="#c0c0c0"/>
<rect x="1493" y="571" width="1" height="13" fill="#c0c0c0"/>
<rect x="1501" y="571" width="1" height="13" fill="#c0c0c0"/>
<rect x="1509" y="571" width="1" height="10" fill="#c0c0c0"/>
<rect x="1517" y="571" width="1" height="6" fill="#c0c0c0"/>
<rect x="1525" y="571" width="1" height="3" fill="#c0c0c0"/>
<rect x="1541" y="570" width="1" height="2" fill="#c0c0c0"/>
<rect x="1549" y="566" width="1" height="6" fill="#c0c0c0"/>
<rect x="1557" y="564" width="1" height="8" fill="#c0c0c0"/>
<rect x="1565" y="563" width="1" height="9" fill="#c0c0c0"/>
<rect x="1573" y="564" width="1" height="8" fill="#c0c0c0"/>
<rect x="1581" y="564" width="1" height="8" fill="#c0c0c0"/>
<rect x="1589" y="566" width="1" height="6" fill="#c0c0c0"/>
<rect x="1597" y="569" width="1" height="3" fill="#c0c0c0"/>
<rect x="1613" y="571" width="1" height="2" fill="#c0c0c0"/>
<rect x="1621" y="571" width="1" height="7" fill="#c0c0c0"/>
<rect x="1629" y="571" width="1" height="13" fill="#c0c0c0"/>
<rect x="1637" y="571" width="1" height="19" fill="#c0c0c0"/>
<rect x="1645" y="571" width="1" height="22" fill="#c0c0c0"/>
<rect x="1653" y="571" width="1" height="32" fill="#c0c0c0"/>
<rect x="1661" y="571" width="1" height="30" fill="#c0c0c0"/>
<rect x="1669" y="571" width="1" height="28" fill="#c0c0c0"/>
</g>
<g shape-rendering="crispEdges">
<polyline points="5.5,565.5 13.5,566.5 21.5,569.7 29.5,572.4 37.5,575.9 45.5,580.0 53.5,583.2 61.5,586.3 69.5,589.8 77.5,591.9 85.5,596.0 93.5,598.0 101.5,600.8 109.5,601.9 117.5,602.5 125.5,601.9 133.5,601.2 141.5,600.2 149.5,598.7 157.5,596.0 165.5,591.9 173.5,587.3 181.5,583.8 189.5,581.0 197.5,577.3 205.5,574.9 213.5,572.8 221.5,570.7 229.5,568.2 237.5,566.0 245.5,563.4 253.5,560.3 261.5,557.8 269.5,555.7 277.5,554.5 285.5,553.5 293.5,553.5 301.5,555.7 309.5,557.2 317.5,561.4 325.5,564.5 333.5,568.0 341.5,571.0 349.5,574.4 357.5,576.5 365.5,579.0 373.5,580.7 381.5,582.0 389.5,582.7 397.5,584.8 405.5,586.3 413.5,587.3 421.5,588.4 429.5,588.4 437.5,588.4 445.5,588.0 453.5,587.3 461.5,586.9 469.5,586.3 477.5,585.2 485.5,583.8 493.5,582.7 501.5,582.0 509.5,581.0 517.5,581.0 525.5,582.7 533.5,584.8 541.5,587.7 549.5,591.0 557.5,594.2 565.5,597.7 573.5,600.8 581.5,602.9 589.5,604.6 597.5,606.0 605.5,606.6 613.5,607.5 621.5,608.5 629.5,608.5 637.5,608.7 645.5,609.5 653.5,610.2 661.5,611.8 669.5,613.3 677.5,613.9 685.5,614.3 693.5,613.3 701.5,611.8 709.5,610.2 717.5,608.0 725.5,605.0 733.5,601.9 741.5,597.7 749.5,593.5 757.5,589.4 765.5,585.2 773.5,580.7 781.5,576.5 789.5,571.7 797.5,569.7 805.5,567.6 813.5,565.5 821.5,565.5 829.5,565.5 837.5,565.5 845.5,568.0 853.5,570.7 861.5,577.3 869.5,585.2 877.5,592.5 885.5,599.8 893.5,608.0 901.5,619.5 909.5,626.8 917.5,634.0 925.5,641.3 933.5,643.4 941.5,645.5 949.5,647.0 957.5,649.6 965.5,652.0 973.5,655.9 981.5,657.9 989.5,658.4 997.5,658.4 1005.5,658.4 1013.5,658.4 1021.5,657.9 1029.5,656.9 1037.5,653.8 1045.5,651.3 1053.5,650.3 1061.5,648.0 1069.5,646.5 1077.5,643.4 1085.5,640.9 1093.5,636.0 1101.5,632.0 1109.5,627.8 1117.5,623.7 1125.5,619.5 1133.5,615.8 1141.5,612.2 1149.5,609.0 1157.5,607.0 1165.5,603.5 1173.5,599.4 1181.5,594.6 1189.5,587.3 1197.5,581.0 1205.5,574.2 1213.5,568.2 1221.5,562.4 1229.5,556.6 1237.5,552.0 1245.5,546.8 1253.5,543.3 1261.5,539.5 1269.5,536.4 1277.5,534.0 1285.5,532.9 1293.5,532.3 1301.5,532.3 1309.5,534.3 1317.5,535.8 1325.5,538.5 1333.5,542.0 1341.5,543.7 1349.5,545.8 1357.5,548.9 1365.5,551.4 1373.5,552.6 1381.5,554.2 1389.5,554.5 1397.5,555.0 1405.5,555.0 1413.5,555.5 1421.5,556.4 1429.5,557.3 1437.5,558.6 1445.5,559.7 1453.5,561.9 1461.5,564.3 1469.5,566.5 1477.5,568.4 1485.5,571.2 1493.5,573.4 1501.5,576.3 1509.5,577.3 1517.5,578.5 1525.5,579.5 1533.5,579.5 1541.5,578.5 1549.5,576.7 1557.5,575.2 1565.5,572.6 1573.5,570.2 1581.5,568.4 1589.5,566.5 1597.5,566.5 1605.5,566.5 1613.5,566.9 1621.5,568.4 1629.5,570.2 1637.5,573.0 1645.5,576.7 1653.5,580.4 1661.5,584.0 1669.5,587.8" fill="none" stroke="#ff0000" stroke-width="1" stroke-dasharray="3 3"/>
</g>
<g shape-rendering="crispEdges">
<line x1="5" y1="720.5" x2="1690" y2="720.5" stroke="#c0c0c0" stroke-width="1" stroke-dasharray="3 3"/>
<line x1="5" y1="775.5" x2="1690" y2="775.5" stroke="#c0c0c0" stroke-width="1" stroke-dasharray="3 3"/>
</g>
<g shape-rendering="crispEdges">
<polyline points="5.5,758.4 13.5,762.8 21.5,771.5 29.5,779.4 37.5,772.5 45.5,774.6 53.5,765.2 61.5,745.5 69.5,759.0 77.5,768.4 85.5,762.5 93.5,763.6 101.5,765.2 109.5,763.2 117.5,747.6 125.5,746.0 133.5,748.2 141.5,746.0 149.5,741.8 157.5,741.4 165.5,738.2 173.5,746.0 181.5,742.4 189.5,744.0 197.5,745.5 205.5,744.5 213.5,741.4 221.5,737.2 229.5,726.2 237.5,723.3 245.5,727.9 253.5,729.5 261.5,734.0 269.5,746.5 277.5,759.4 285.5,755.5 293.5,756.5 301.5,755.5 309.5,763.6 317.5,750.3 325.5,755.5 333.5,754.4 341.5,756.3 349.5,756.5 357.5,764.2 365.5,755.5 373.5,755.5 381.5,755.5 389.5,753.4 397.5,761.5 405.5,759.4 413.5,764.2 421.5,760.5 429.5,749.3 437.5,751.3 445.5,744.5 453.5,745.5 461.5,747.2 469.5,754.4 477.5,751.3 485.5,754.4 493.5,758.4 501.5,755.5 509.5,758.4 517.5,763.8 525.5,773.0 533.5,778.0 541.5,781.2 549.5,783.5 557.5,772.5 565.5,770.4 573.5,759.4 581.5,759.4 589.5,752.2 597.5,750.3 605.5,772.5 613.5,770.4 621.5,773.6 629.5,773.6 637.5,774.6 645.5,769.4 653.5,769.4 661.5,773.0 669.5,756.3 677.5,757.4 685.5,759.4 693.5,761.0 701.5,762.5 709.5,764.2 717.5,739.3 725.5,737.6 733.5,739.3 741.5,737.2 749.5,735.0 757.5,738.2 765.5,738.2 773.5,741.4 781.5,741.4 789.5,741.4 797.5,742.8 805.5,743.4 813.5,748.6 821.5,745.0 829.5,754.9 837.5,765.2 845.5,777.7 853.5,785.0 861.5,797.4 869.5,798.5 877.5,771.5 885.5,768.4 893.5,769.4 901.5,769.4 909.5,771.0 917.5,778.3 925.5,765.2 933.5,766.3 941.5,775.2 949.5,776.3 957.5,778.3 965.5,781.2 973.5,775.6 981.5,770.9 989.5,764.2 997.5,759.4 1005.5,761.0 1013.5,773.0 1021.5,769.4 1029.5,768.4 1037.5,766.3 1045.5,767.3 1053.5,765.7 1061.5,762.0 1069.5,760.5 1077.5,757.4 1085.5,755.5 1093.5,752.2 1101.5,753.2 1109.5,767.3 1117.5,762.8 1125.5,753.2 1133.5,752.2 1141.5,751.0 1149.5,745.0 1157.5,748.6 1165.5,737.2 1173.5,737.2 1181.5,735.0 1189.5,731.0 1197.5,725.0 1205.5,721.2 1213.5,727.9 1221.5,729.3 1229.5,730.3 1237.5,733.5 1245.5,725.4 1253.5,731.4 1261.5,729.3 1269.5,728.3 1277.5,726.2 1285.5,729.3 1293.5,738.2 1301.5,740.3 1309.5,750.0 1317.5,751.3 1325.5,747.2 1333.5,749.3 1341.5,741.4 1349.5,742.4 1357.5,740.3 1365.5,738.7 1373.5,733.7 1381.5,732.0 1389.5,733.8 1397.5,748.5 1405.5,745.4 1413.5,748.2 1421.5,749.5 1429.5,754.3 1437.5,746.3 1445.5,748.2 1453.5,759.2 1461.5,758.3 1469.5,759.2 1477.5,764.2 1485.5,762.4 1493.5,764.2 1501.5,760.2 1509.5,746.0 1517.5,738.4 1525.5,738.4 1533.5,739.5 1541.5,735.2 1549.5,731.5 1557.5,730.6 1565.5,742.0 1573.5,745.4 1581.5,743.2 1589.5,753.2 1597.5,754.3 1605.5,756.0 1613.5,762.0 1621.5,772.2 1629.5,776.4 1637.5,779.6 1645.5,774.4 1653.5,787.3 1661.5,757.4 1669.5,755.2" fill="none" stroke="#1e90ff" stroke-width="1" />
</g>
<g shape-rendering="crispEdges">
<rect x="4.5" y="2.5" width="1686" height="517" fill="none" stroke="#000" stroke-width="1"/>
<rect x="4.5" y="521.5" width="1686" height="154" fill="none" stroke="#000" stroke-width="1"/>
<rect x="4.5" y="677.5" width="1686" height="140" fill="none" stroke="#000" stroke-width="1"/>
<rect x="1691" y="21" width="2" height="1" fill="#000"/>
<rect x="1691" y="54" width="2" height="1" fill="#000"/>
<rect x="1691" y="87" width="2" height="1" fill="#000"/>
<rect x="1691" y="120" width="2" height="1" fill="#000"/>
<rect x="1691" y="153" width="2" height="1" fill="#000"/>
<rect x="1691" y="186" width="2" height="1" fill="#000"/>
<rect x="1691" y="219" width="2" height="1" fill="#000"/>
<rect x="1691" y="252" width="2" height="1" fill="#000"/>
<rect x="1691" y="285" width="2" height="1" fill="#000"/>
<rect x="1691" y="318" width="2" height="1" fill="#000"/>
<rect x="1691" y="351" width="2" height="1" fill="#000"/>
<rect x="1691" y="384" width="2" height="1" fill="#000"/>
<rect x="1691" y="417" width="2" height="1" fill="#000"/>
<rect x="1691" y="450" width="2" height="1" fill="#000"/>
<rect x="1691" y="483" width="2" height="1" fill="#000"/>
<rect x="1691" y="516" width="2" height="1" fill="#000"/>
<rect x="1691" y="523" width="1" height="1" fill="#000"/>
<rect x="1691" y="571" width="2" height="1" fill="#000"/>
<rect x="1691" y="674" width="1" height="1" fill="#000"/>
<rect x="1691" y="679" width="1" height="1" fill="#000"/>
<rect x="1691" y="720" width="2" height="1" fill="#000"/>
<rect x="1691" y="775" width="2" height="1" fill="#000"/>
<rect x="1691" y="816" width="1" height="1" fill="#000"/>
<rect x="5" y="818" width="1" height="3" fill="#000"/>
<rect x="69" y="818" width="1" height="3" fill="#000"/>
<rect x="133" y="818" width="1" height="3" fill="#000"/>
<rect x="197" y="818" width="1" height="3" fill="#000"/>
<rect x="261" y="818" width="1" height="3" fill="#000"/>
<rect x="325" y="818" width="1" height="3" fill="#000"/>
<rect x="389" y="818" width="1" height="3" fill="#000"/>
<rect x="453" y="818" width="1" height="3" fill="#000"/>
<rect x="517" y="818" width="1" height="3" fill="#000"/>
<rect x="581" y="818" width="1" height="3" fill="#000"/>
<rect x="645" y="818" width="1" height="3" fill="#000"/>
<rect x="709" y="818" width="1" height="3" fill="#000"/>
<rect x="773" y="818" width="1" height="3" fill="#000"/>
<rect x="837" y="818" width="1" height="3" fill="#000"/>
<rect x="901" y="818" width="1" height="3" fill="#000"/>
<rect x="965" y="818" width="1" height="3" fill="#000"/>
<rect x="1029" y="818" width="1" height="3" fill="#000"/>
<rect x="1093" y="818" width="1" height="3" fill="#000"/>
<rect x="1157" y="818" width="1" height="3" fill="#000"/>
<rect x="1221" y="818" width="1" height="3" fill="#000"/>
<rect x="1285" y="818" width="1" height="3" fill="#000"/>
<rect x="1349" y="818" width="1" height="3" fill="#000"/>
<rect x="1413" y="818" width="1" height="3" fill="#000"/>
<rect x="1477" y="818" width="1" height="3" fill="#000"/>
<rect x="1541" y="818" width="1" height="3" fill="#000"/>
<rect x="1605" y="818" width="1" height="3" fill="#000"/>
<rect x="1669" y="818" width="1" height="3" fill="#000"/>
</g>
<text transform="translate(1696,25) scale(0.955,1)" fill="#000" font-size="9.8px" stroke="#000" stroke-width="0.3" >85.225</text>
<text transform="translate(1696,58) scale(0.955,1)" fill="#000" font-size="9.8px" stroke="#000" stroke-width="0.3" >83.650</text>
<text transform="translate(1696,91) scale(0.955,1)" fill="#000" font-size="9.8px" stroke="#000" stroke-width="0.3" >82.120</text>
<text transform="translate(1696,124) scale(0.955,1)" fill="#000" font-size="9.8px" stroke="#000" stroke-width="0.3" >80.590</text>
<text transform="translate(1696,157) scale(0.955,1)" fill="#000" font-size="9.8px" stroke="#000" stroke-width="0.3" >79.015</text>
<text transform="translate(1696,190) scale(0.955,1)" fill="#000" font-size="9.8px" stroke="#000" stroke-width="0.3" >77.485</text>
<text transform="translate(1696,223) scale(0.955,1)" fill="#000" font-size="9.8px" stroke="#000" stroke-width="0.3" >75.910</text>
<text transform="translate(1696,256) scale(0.955,1)" fill="#000" font-size="9.8px" stroke="#000" stroke-width="0.3" >74.380</text>
<text transform="translate(1696,289) scale(0.955,1)" fill="#000" font-size="9.8px" stroke="#000" stroke-width="0.3" >72.850</text>
<text transform="translate(1696,322) scale(0.955,1)" fill="#000" font-size="9.8px" stroke="#000" stroke-width="0.3" >71.275</text>
<text transform="translate(1696,355) scale(0.955,1)" fill="#000" font-size="9.8px" stroke="#000" stroke-width="0.3" >69.745</text>
<text transform="translate(1696,388) scale(0.955,1)" fill="#000" font-size="9.8px" stroke="#000" stroke-width="0.3" >68.170</text>
<text transform="translate(1696,421) scale(0.955,1)" fill="#000" font-size="9.8px" stroke="#000" stroke-width="0.3" >66.640</text>
<text transform="translate(1696,454) scale(0.955,1)" fill="#000" font-size="9.8px" stroke="#000" stroke-width="0.3" >65.065</text>
<text transform="translate(1696,487) scale(0.955,1)" fill="#000" font-size="9.8px" stroke="#000" stroke-width="0.3" >63.535</text>
<text transform="translate(1696,520) scale(0.955,1)" fill="#000" font-size="9.8px" stroke="#000" stroke-width="0.3" >62.005</text>
<g shape-rendering="crispEdges">
<rect x="1692" y="233" width="36" height="11" fill="#ff0000"/>
<rect x="1692" y="275" width="36" height="11" fill="#ff0000"/>
<rect x="1692" y="339" width="36" height="11" fill="#32cd32"/>
<rect x="1692" y="359" width="36" height="11" fill="#000000"/>
<rect x="1692" y="393" width="36" height="11" fill="#4169e1"/>
<rect x="1692" y="446" width="36" height="11" fill="#4169e1"/>
</g>
<text transform="translate(1696,242) scale(0.955,1)" fill="#fff" font-size="9.8px" stroke="#fff" stroke-width="0.3" >75.000</text>
<text transform="translate(1696,284) scale(0.955,1)" fill="#fff" font-size="9.8px" stroke="#fff" stroke-width="0.3" >73.000</text>
<text transform="translate(1696,348) scale(0.955,1)" fill="#fff" font-size="9.8px" stroke="#fff" stroke-width="0.3" >70.000</text>
<text transform="translate(1696,368) scale(0.955,1)" fill="#fff" font-size="9.8px" stroke="#fff" stroke-width="0.3" >69.140</text>
<text transform="translate(1696,402) scale(0.955,1)" fill="#fff" font-size="9.8px" stroke="#fff" stroke-width="0.3" >67.500</text>
<text transform="translate(1696,455) scale(0.955,1)" fill="#fff" font-size="9.8px" stroke="#fff" stroke-width="0.3" >65.000</text>
<text transform="translate(1694,532) scale(0.955,1)" fill="#000" font-size="9.8px" stroke="#000" stroke-width="0.3" >1.2294</text>
<text transform="translate(1694,575) scale(0.955,1)" fill="#000" font-size="9.8px" stroke="#000" stroke-width="0.3" >0.00</text>
<text transform="translate(1694,672) scale(0.955,1)" fill="#000" font-size="9.8px" stroke="#000" stroke-width="0.3" >-2.6252</text>
<text transform="translate(1694,688) scale(0.955,1)" fill="#000" font-size="9.8px" stroke="#000" stroke-width="0.3" >100</text>
<text transform="translate(1694,724) scale(0.955,1)" fill="#000" font-size="9.8px" stroke="#000" stroke-width="0.3" >70</text>
<text transform="translate(1694,779) scale(0.955,1)" fill="#000" font-size="9.8px" stroke="#000" stroke-width="0.3" >30</text>
<text transform="translate(1694,814) scale(0.955,1)" fill="#000" font-size="9.8px" stroke="#000" stroke-width="0.3" >0</text>
<text transform="translate(4,830) scale(0.985,1)" fill="#000" font-size="9.8px" stroke="#000" stroke-width="0.3" >3 Nov 2021</text>
<text transform="translate(68,830) scale(0.985,1)" fill="#000" font-size="9.8px" stroke="#000" stroke-width="0.3" >4 Nov 12:00</text>
<text transform="translate(132,830) scale(0.985,1)" fill="#000" font-size="9.8px" stroke="#000" stroke-width="0.3" >5 Nov 20:00</text>
<text transform="translate(196,830) scale(0.985,1)" fill="#000" font-size="9.8px" stroke="#000" stroke-width="0.3" >9 Nov 00:00</text>
<text transform="translate(260,830) scale(0.985,1)" fill="#000" font-size="9.8px" stroke="#000" stroke-width="0.3" >10 Nov 08:00</text>
<text transform="translate(324,830) scale(0.985,1)" fill="#000" font-size="9.8px" stroke="#000" stroke-width="0.3" >11 Nov 16:00</text>
<text transform="translate(388,830) scale(0.985,1)" fill="#000" font-size="9.8px" stroke="#000" stroke-width="0.3" >14 Nov 23:00</text>
<text transform="translate(452,830) scale(0.985,1)" fill="#000" font-size="9.8px" stroke="#000" stroke-width="0.3" >16 Nov 04:00</text>
<text transform="translate(516,830) scale(0.985,1)" fill="#000" font-size="9.8px" stroke="#000" stroke-width="0.3" >17 Nov 12:00</text>
<text transform="translate(580,830) scale(0.985,1)" fill="#000" font-size="9.8px" stroke="#000" stroke-width="0.3" >18 Nov 20:00</text>
<text transform="translate(644,830) scale(0.985,1)" fill="#000" font-size="9.8px" stroke="#000" stroke-width="0.3" >22 Nov 00:00</text>
<text transform="translate(708,830) scale(0.985,1)" fill="#000" font-size="9.8px" stroke="#000" stroke-width="0.3" >23 Nov 08:00</text>
<text transform="translate(772,830) scale(0.985,1)" fill="#000" font-size="9.8px" stroke="#000" stroke-width="0.3" >24 Nov 16:00</text>
<text transform="translate(836,830) scale(0.985,1)" fill="#000" font-size="9.8px" stroke="#000" stroke-width="0.3" >26 Nov 00:00</text>
<text transform="translate(900,830) scale(0.985,1)" fill="#000" font-size="9.8px" stroke="#000" stroke-width="0.3" >29 Nov 08:00</text>
<text transform="translate(964,830) scale(0.985,1)" fill="#000" font-size="9.8px" stroke="#000" stroke-width="0.3" >30 Nov 16:00</text>
<text transform="translate(1028,830) scale(0.95,1)" fill="#000" font-size="9.8px" stroke="#000" stroke-width="0.3" >2 Dec 00:00</text>
<text transform="translate(1092,830) scale(0.95,1)" fill="#000" font-size="9.8px" stroke="#000" stroke-width="0.3" >3 Dec 08:00</text>
<text transform="translate(1156,830) scale(0.95,1)" fill="#000" font-size="9.8px" stroke="#000" stroke-width="0.3" >6 Dec 12:00</text>
<text transform="translate(1220,830) scale(0.95,1)" fill="#000" font-size="9.8px" stroke="#000" stroke-width="0.3" >7 Dec 20:00</text>
<text transform="translate(1284,830) scale(0.95,1)" fill="#000" font-size="9.8px" stroke="#000" stroke-width="0.3" >9 Dec 04:00</text>
<text transform="translate(1348,830) scale(0.95,1)" fill="#000" font-size="9.8px" stroke="#000" stroke-width="0.3" >10 Dec 12:00</text>
<text transform="translate(1412,830) scale(0.95,1)" fill="#000" font-size="9.8px" stroke="#000" stroke-width="0.3" >13 Dec 16:00</text>
<text transform="translate(1476,830) scale(0.95,1)" fill="#000" font-size="9.8px" stroke="#000" stroke-width="0.3" >15 Dec 00:00</text>
<text transform="translate(1540,830) scale(0.95,1)" fill="#000" font-size="9.8px" stroke="#000" stroke-width="0.3" >16 Dec 08:00</text>
<text transform="translate(1604,830) scale(0.95,1)" fill="#000" font-size="9.8px" stroke="#000" stroke-width="0.3" >17 Dec 16:00</text>
<text transform="translate(1668,830) scale(0.95,1)" fill="#000" font-size="9.8px" stroke="#000" stroke-width="0.3" >20 Dec 20:00</text>
<g shape-rendering="crispEdges">
<rect x="8" y="9" width="7" height="1" fill="#000"/>
<rect x="9" y="10" width="5" height="1" fill="#000"/>
<rect x="10" y="11" width="3" height="1" fill="#000"/>
<rect x="11" y="12" width="1" height="1" fill="#000"/>
</g>
<text transform="translate(20,14) scale(0.955,1)" fill="#000" font-size="9.8px" stroke="#000" stroke-width="0.3" >USOil-,H4&#160;&#160;68.950 69.230 68.840 69.140</text>
<text transform="translate(9,534) scale(0.955,1)" fill="#000" font-size="9.8px" stroke="#000" stroke-width="0.3" >MACD(12,26,9) -0.7378 -0.4454</text>
<text transform="translate(9,690) scale(0.955,1)" fill="#000" font-size="9.8px" stroke="#000" stroke-width="0.3" >RSI(14) 44.2706</text>
<text x="1301" y="153" fill="#ed1c24" font-size="36px" font-weight="300" stroke="#ed1c24" stroke-width="0.7" style="font-family:'Liberation Sans','Noto Sans CJK SC',sans-serif">多空转折点<tspan font-size="38px" stroke="none" font-weight="400">70</tspan></text>
</svg></body></html>
